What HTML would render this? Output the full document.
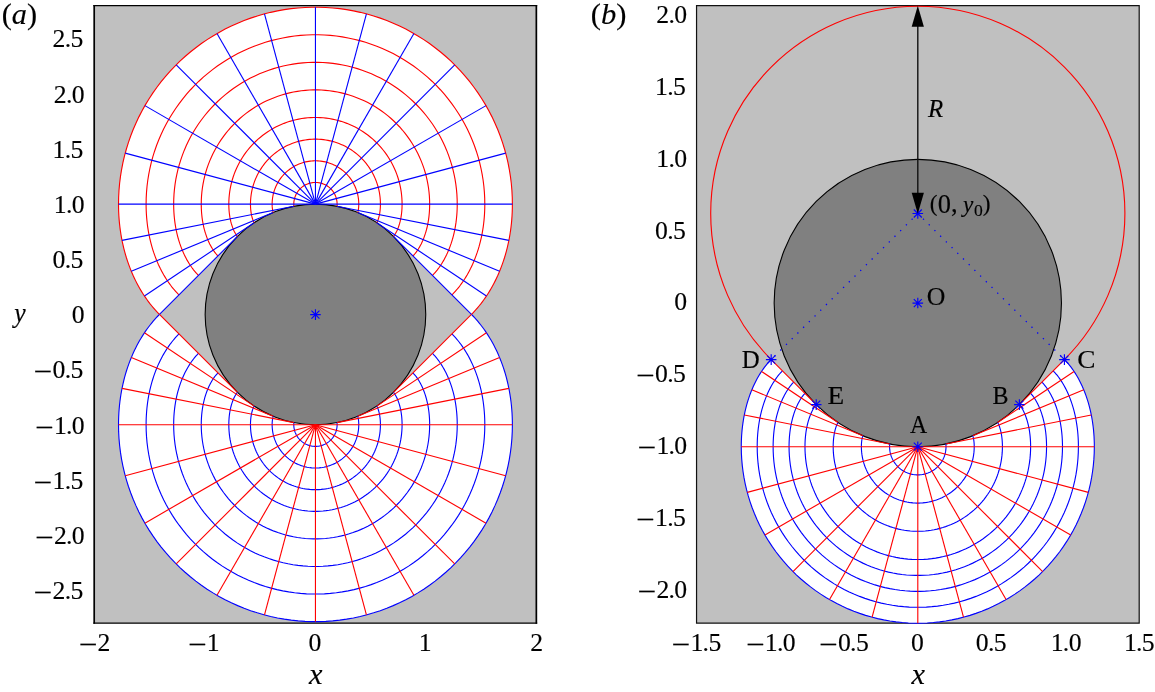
<!DOCTYPE html>
<html><head><meta charset="utf-8"><title>Figure</title>
<style>
html,body{margin:0;padding:0;background:#fff;}
svg{display:block;}
text{font-family:"Liberation Serif","Times New Roman",serif;fill:#000;stroke:#000;stroke-width:.15px;}
</style></head>
<body>
<svg width="1155" height="692" viewBox="0 0 1155 692">
<rect width="1155" height="692" fill="#fff"/>
<rect x="94.2" y="5.6" width="442.15" height="617.6" fill="#c0c0c0"/>
<path d="M94.2 5V623.8M536.35 5V623.8" stroke="#000" stroke-width="1.7" fill="none"/><path d="M93.35 5.6H537.2M93.35 623.2H537.2" stroke="#000" stroke-width="1.2" fill="none"/>
<path d="M471.44 314.4 L473.01 312.8 L474.58 311.13 L476.14 309.4 L477.7 307.6 L479.25 305.74 L480.79 303.82 L482.32 301.82 L483.84 299.76 L485.34 297.64 L486.82 295.45 L488.28 293.19 L489.72 290.86 L491.13 288.47 L492.52 286 L493.88 283.48 L495.21 280.88 L496.5 278.22 L497.76 275.5 L498.98 272.7 L500.17 269.84 L501.31 266.92 L502.41 263.93 L503.46 260.88 L504.47 257.77 L505.42 254.59 L506.32 251.35 L507.17 248.05 L507.96 244.7 L508.7 241.28 L509.37 237.8 L509.98 234.27 L510.53 230.68 L511.01 227.03 L511.42 223.34 L511.76 219.59 L512.03 215.79 L512.22 211.94 L512.34 208.04 L512.38 204.1 L512.26 197.15 L511.89 190.21 L511.28 183.28 L510.42 176.39 L509.32 169.52 L507.98 162.7 L506.4 155.93 L504.58 149.23 L502.53 142.58 L500.24 136.02 L497.72 129.54 L494.97 123.16 L492.01 116.87 L488.82 110.69 L485.41 104.63 L481.8 98.7 L477.97 92.89 L473.95 87.23 L469.72 81.71 L465.31 76.34 L460.71 71.13 L455.92 66.08 L450.97 61.21 L445.84 56.52 L440.55 52.01 L435.1 47.69 L429.51 43.56 L423.77 39.64 L417.9 35.92 L411.9 32.41 L405.78 29.11 L399.55 26.03 L393.21 23.17 L386.78 20.54 L380.26 18.14 L373.65 15.97 L366.98 14.03 L360.24 12.33 L353.44 10.87 L346.6 9.65 L339.72 8.67 L332.81 7.94 L325.87 7.45 L318.93 7.2 L311.97 7.2 L305.03 7.45 L298.09 7.94 L291.18 8.67 L284.3 9.65 L277.46 10.87 L270.66 12.33 L263.92 14.03 L257.25 15.97 L250.64 18.14 L244.12 20.54 L237.69 23.17 L231.35 26.03 L225.12 29.11 L219 32.41 L213 35.92 L207.13 39.64 L201.39 43.56 L195.8 47.69 L190.35 52.01 L185.06 56.52 L179.93 61.21 L174.98 66.08 L170.19 71.13 L165.59 76.34 L161.18 81.71 L156.95 87.23 L152.93 92.89 L149.1 98.7 L145.49 104.63 L142.08 110.69 L138.89 116.87 L135.93 123.16 L133.18 129.54 L130.66 136.02 L128.37 142.58 L126.32 149.23 L124.5 155.93 L122.92 162.7 L121.58 169.52 L120.48 176.39 L119.62 183.28 L119.01 190.21 L118.64 197.15 L118.52 204.1 L118.56 208.04 L118.68 211.94 L118.87 215.79 L119.14 219.59 L119.48 223.34 L119.89 227.03 L120.37 230.68 L120.92 234.27 L121.53 237.8 L122.2 241.28 L122.94 244.7 L123.73 248.05 L124.58 251.35 L125.48 254.59 L126.43 257.77 L127.44 260.88 L128.49 263.93 L129.59 266.92 L130.73 269.84 L131.92 272.7 L133.14 275.5 L134.4 278.22 L135.69 280.88 L137.02 283.48 L138.38 286 L139.77 288.47 L141.18 290.86 L142.62 293.19 L144.08 295.45 L145.56 297.64 L147.06 299.76 L148.58 301.82 L150.11 303.82 L151.65 305.74 L153.2 307.6 L154.76 309.4 L156.32 311.13 L157.89 312.8 L159.46 314.4 L237.46 236.41 L239.04 234.85 L240.66 233.33 L242.31 231.84 L243.98 230.38 L245.69 228.96 L247.43 227.57 L249.19 226.22 L250.98 224.91 L252.79 223.62 L254.63 222.38 L256.5 221.18 L258.39 220.01 L260.3 218.88 L262.23 217.79 L264.19 216.73 L266.17 215.72 L268.17 214.75 L270.18 213.82 L272.22 212.93 L274.27 212.08 L276.34 211.27 L278.42 210.5 L280.52 209.78 L282.64 209.09 L284.76 208.45 L286.9 207.86 L289.05 207.31 L291.22 206.8 L293.39 206.33 L295.57 205.91 L297.76 205.53 L299.95 205.19 L302.15 204.9 L304.36 204.66 L306.57 204.46 L308.79 204.3 L311.01 204.19 L313.23 204.12 L315.45 204.1 L317.67 204.12 L319.89 204.19 L322.11 204.3 L324.33 204.46 L326.54 204.66 L328.75 204.9 L330.95 205.19 L333.14 205.53 L335.33 205.91 L337.51 206.33 L339.68 206.8 L341.85 207.31 L344 207.86 L346.14 208.45 L348.26 209.09 L350.38 209.78 L352.48 210.5 L354.56 211.27 L356.63 212.08 L358.68 212.93 L360.72 213.82 L362.73 214.75 L364.73 215.72 L366.71 216.73 L368.67 217.79 L370.6 218.88 L372.51 220.01 L374.4 221.18 L376.27 222.38 L378.11 223.62 L379.92 224.91 L381.71 226.22 L383.47 227.57 L385.21 228.96 L386.92 230.38 L388.59 231.84 L390.24 233.33 L391.86 234.85 L393.44 236.41Z" fill="#fff" stroke="none"/>
<path d="M471.44 314.4 L473.01 316 L474.58 317.67 L476.14 319.4 L477.7 321.2 L479.25 323.06 L480.79 324.98 L482.32 326.98 L483.84 329.04 L485.34 331.16 L486.82 333.35 L488.28 335.61 L489.72 337.94 L491.13 340.33 L492.52 342.8 L493.88 345.32 L495.21 347.92 L496.5 350.58 L497.76 353.3 L498.98 356.1 L500.17 358.96 L501.31 361.88 L502.41 364.87 L503.46 367.92 L504.47 371.03 L505.42 374.21 L506.32 377.45 L507.17 380.75 L507.96 384.1 L508.7 387.52 L509.37 391 L509.98 394.53 L510.53 398.12 L511.01 401.77 L511.42 405.46 L511.76 409.21 L512.03 413.01 L512.22 416.86 L512.34 420.76 L512.38 424.7 L512.26 431.65 L511.89 438.59 L511.28 445.52 L510.42 452.41 L509.32 459.28 L507.98 466.1 L506.4 472.87 L504.58 479.57 L502.53 486.22 L500.24 492.78 L497.72 499.26 L494.97 505.64 L492.01 511.93 L488.82 518.11 L485.41 524.17 L481.8 530.1 L477.97 535.91 L473.95 541.57 L469.72 547.09 L465.31 552.46 L460.71 557.67 L455.92 562.72 L450.97 567.59 L445.84 572.28 L440.55 576.79 L435.1 581.11 L429.51 585.24 L423.77 589.16 L417.9 592.88 L411.9 596.39 L405.78 599.69 L399.55 602.77 L393.21 605.63 L386.78 608.26 L380.26 610.66 L373.65 612.83 L366.98 614.77 L360.24 616.47 L353.44 617.93 L346.6 619.15 L339.72 620.13 L332.81 620.86 L325.87 621.35 L318.93 621.6 L311.97 621.6 L305.03 621.35 L298.09 620.86 L291.18 620.13 L284.3 619.15 L277.46 617.93 L270.66 616.47 L263.92 614.77 L257.25 612.83 L250.64 610.66 L244.12 608.26 L237.69 605.63 L231.35 602.77 L225.12 599.69 L219 596.39 L213 592.88 L207.13 589.16 L201.39 585.24 L195.8 581.11 L190.35 576.79 L185.06 572.28 L179.93 567.59 L174.98 562.72 L170.19 557.67 L165.59 552.46 L161.18 547.09 L156.95 541.57 L152.93 535.91 L149.1 530.1 L145.49 524.17 L142.08 518.11 L138.89 511.93 L135.93 505.64 L133.18 499.26 L130.66 492.78 L128.37 486.22 L126.32 479.57 L124.5 472.87 L122.92 466.1 L121.58 459.28 L120.48 452.41 L119.62 445.52 L119.01 438.59 L118.64 431.65 L118.52 424.7 L118.56 420.76 L118.68 416.86 L118.87 413.01 L119.14 409.21 L119.48 405.46 L119.89 401.77 L120.37 398.12 L120.92 394.53 L121.53 391 L122.2 387.52 L122.94 384.1 L123.73 380.75 L124.58 377.45 L125.48 374.21 L126.43 371.03 L127.44 367.92 L128.49 364.87 L129.59 361.88 L130.73 358.96 L131.92 356.1 L133.14 353.3 L134.4 350.58 L135.69 347.92 L137.02 345.32 L138.38 342.8 L139.77 340.33 L141.18 337.94 L142.62 335.61 L144.08 333.35 L145.56 331.16 L147.06 329.04 L148.58 326.98 L150.11 324.98 L151.65 323.06 L153.2 321.2 L154.76 319.4 L156.32 317.67 L157.89 316 L159.46 314.4 L237.46 392.39 L239.04 393.95 L240.66 395.47 L242.31 396.96 L243.98 398.42 L245.69 399.84 L247.43 401.23 L249.19 402.58 L250.98 403.89 L252.79 405.18 L254.63 406.42 L256.5 407.62 L258.39 408.79 L260.3 409.92 L262.23 411.01 L264.19 412.07 L266.17 413.08 L268.17 414.05 L270.18 414.98 L272.22 415.87 L274.27 416.72 L276.34 417.53 L278.42 418.3 L280.52 419.02 L282.64 419.71 L284.76 420.35 L286.9 420.94 L289.05 421.49 L291.22 422 L293.39 422.47 L295.57 422.89 L297.76 423.27 L299.95 423.61 L302.15 423.9 L304.36 424.14 L306.57 424.34 L308.79 424.5 L311.01 424.61 L313.23 424.68 L315.45 424.7 L317.67 424.68 L319.89 424.61 L322.11 424.5 L324.33 424.34 L326.54 424.14 L328.75 423.9 L330.95 423.61 L333.14 423.27 L335.33 422.89 L337.51 422.47 L339.68 422 L341.85 421.49 L344 420.94 L346.14 420.35 L348.26 419.71 L350.38 419.02 L352.48 418.3 L354.56 417.53 L356.63 416.72 L358.68 415.87 L360.72 414.98 L362.73 414.05 L364.73 413.08 L366.71 412.07 L368.67 411.01 L370.6 409.92 L372.51 408.79 L374.4 407.62 L376.27 406.42 L378.11 405.18 L379.92 403.89 L381.71 402.58 L383.47 401.23 L385.21 399.84 L386.92 398.42 L388.59 396.96 L390.24 395.47 L391.86 393.95 L393.44 392.39Z" fill="#fff" stroke="none"/>
<circle cx="315.45" cy="314.4" r="110.3" fill="#808080" stroke="#000" stroke-width="1.1"/>
<g fill="none" stroke="#f00" stroke-width="1.12"><path d="M336.97 206.22 L336.97 206.22 L336.97 206.21 L336.97 206.21 L336.97 206.2 L336.97 206.18 L336.98 206.17 L336.98 206.15 L336.98 206.13 L336.99 206.11 L336.99 206.08 L337 206.05 L337 206.02 L337 205.99 L337.01 205.95 L337.01 205.91 L337.02 205.87 L337.02 205.82 L337.03 205.77 L337.04 205.72 L337.04 205.67 L337.05 205.61 L337.05 205.55 L337.06 205.49 L337.06 205.42 L337.07 205.35 L337.07 205.28 L337.08 205.21 L337.08 205.13 L337.08 205.05 L337.09 204.97 L337.09 204.88 L337.1 204.79 L337.1 204.7 L337.1 204.61 L337.1 204.51 L337.11 204.41 L337.11 204.31 L337.11 204.21 L337.11 204.1 L337.09 203.34 L337.05 202.57 L336.99 201.81 L336.89 201.05 L336.77 200.3 L336.62 199.55 L336.45 198.8 L336.25 198.07 L336.02 197.33 L335.77 196.61 L335.5 195.9 L335.19 195.2 L334.87 194.51 L334.52 193.83 L334.14 193.16 L333.74 192.51 L333.32 191.87 L332.88 191.25 L332.42 190.64 L331.93 190.05 L331.42 189.48 L330.9 188.92 L330.35 188.39 L329.79 187.87 L329.21 187.37 L328.61 186.9 L327.99 186.45 L327.36 186.01 L326.72 185.6 L326.06 185.22 L325.38 184.86 L324.7 184.52 L324 184.2 L323.29 183.91 L322.58 183.65 L321.85 183.41 L321.12 183.2 L320.38 183.01 L319.63 182.85 L318.88 182.72 L318.12 182.61 L317.36 182.53 L316.6 182.47 L315.83 182.45 L315.07 182.45 L314.3 182.47 L313.54 182.53 L312.78 182.61 L312.02 182.72 L311.27 182.85 L310.52 183.01 L309.78 183.2 L309.05 183.41 L308.32 183.65 L307.61 183.91 L306.9 184.2 L306.2 184.52 L305.52 184.86 L304.84 185.22 L304.18 185.6 L303.54 186.01 L302.91 186.45 L302.29 186.9 L301.69 187.37 L301.11 187.87 L300.55 188.39 L300 188.92 L299.48 189.48 L298.97 190.05 L298.48 190.64 L298.02 191.25 L297.58 191.87 L297.16 192.51 L296.76 193.16 L296.38 193.83 L296.03 194.51 L295.71 195.2 L295.4 195.9 L295.13 196.61 L294.88 197.33 L294.65 198.07 L294.45 198.8 L294.28 199.55 L294.13 200.3 L294.01 201.05 L293.91 201.81 L293.85 202.57 L293.81 203.34 L293.79 204.1 L293.79 204.21 L293.79 204.31 L293.79 204.41 L293.8 204.51 L293.8 204.61 L293.8 204.7 L293.8 204.79 L293.81 204.88 L293.81 204.97 L293.82 205.05 L293.82 205.13 L293.82 205.21 L293.83 205.28 L293.83 205.35 L293.84 205.42 L293.84 205.49 L293.85 205.55 L293.85 205.61 L293.86 205.67 L293.86 205.72 L293.87 205.77 L293.88 205.82 L293.88 205.87 L293.89 205.91 L293.89 205.95 L293.9 205.99 L293.9 206.02 L293.9 206.05 L293.91 206.08 L293.91 206.11 L293.92 206.13 L293.92 206.15 L293.92 206.17 L293.93 206.18 L293.93 206.2 L293.93 206.21 L293.93 206.21 L293.93 206.22 L293.93 206.22"/><path d="M357.66 212.5 L357.66 212.49 L357.67 212.48 L357.68 212.45 L357.69 212.41 L357.71 212.37 L357.73 212.31 L357.75 212.24 L357.78 212.16 L357.81 212.07 L357.84 211.97 L357.87 211.85 L357.91 211.73 L357.94 211.6 L357.98 211.45 L358.02 211.29 L358.06 211.12 L358.1 210.94 L358.15 210.75 L358.19 210.55 L358.23 210.34 L358.27 210.11 L358.32 209.87 L358.36 209.63 L358.4 209.37 L358.44 209.1 L358.48 208.81 L358.51 208.52 L358.55 208.21 L358.58 207.9 L358.61 207.57 L358.64 207.23 L358.67 206.88 L358.69 206.51 L358.71 206.14 L358.73 205.75 L358.75 205.36 L358.76 204.95 L358.76 204.53 L358.76 204.1 L358.74 202.57 L358.66 201.04 L358.52 199.52 L358.33 198 L358.09 196.49 L357.8 194.99 L357.45 193.51 L357.05 192.03 L356.6 190.57 L356.09 189.13 L355.54 187.7 L354.94 186.3 L354.28 184.91 L353.58 183.56 L352.83 182.22 L352.04 180.92 L351.2 179.64 L350.31 178.39 L349.38 177.18 L348.41 176 L347.4 174.85 L346.35 173.74 L345.26 172.67 L344.13 171.64 L342.97 170.65 L341.77 169.7 L340.54 168.79 L339.28 167.93 L337.98 167.11 L336.66 166.34 L335.32 165.61 L333.95 164.93 L332.55 164.31 L331.14 163.73 L329.7 163.2 L328.25 162.72 L326.78 162.29 L325.3 161.92 L323.81 161.6 L322.3 161.33 L320.79 161.12 L319.27 160.95 L317.74 160.85 L316.21 160.79 L314.69 160.79 L313.16 160.85 L311.63 160.95 L310.11 161.12 L308.6 161.33 L307.09 161.6 L305.6 161.92 L304.12 162.29 L302.65 162.72 L301.2 163.2 L299.76 163.73 L298.35 164.31 L296.95 164.93 L295.58 165.61 L294.24 166.34 L292.92 167.11 L291.62 167.93 L290.36 168.79 L289.13 169.7 L287.93 170.65 L286.77 171.64 L285.64 172.67 L284.55 173.74 L283.5 174.85 L282.49 176 L281.52 177.18 L280.59 178.39 L279.7 179.64 L278.86 180.92 L278.07 182.22 L277.32 183.56 L276.62 184.91 L275.96 186.3 L275.36 187.7 L274.81 189.13 L274.3 190.57 L273.85 192.03 L273.45 193.51 L273.1 194.99 L272.81 196.49 L272.57 198 L272.38 199.52 L272.24 201.04 L272.16 202.57 L272.14 204.1 L272.14 204.53 L272.14 204.95 L272.15 205.36 L272.17 205.75 L272.19 206.14 L272.21 206.51 L272.23 206.88 L272.26 207.23 L272.29 207.57 L272.32 207.9 L272.35 208.21 L272.39 208.52 L272.42 208.81 L272.46 209.1 L272.5 209.37 L272.54 209.63 L272.58 209.87 L272.63 210.11 L272.67 210.34 L272.71 210.55 L272.75 210.75 L272.8 210.94 L272.84 211.12 L272.88 211.29 L272.92 211.45 L272.96 211.6 L272.99 211.73 L273.03 211.85 L273.06 211.97 L273.09 212.07 L273.12 212.16 L273.15 212.24 L273.17 212.31 L273.19 212.37 L273.21 212.41 L273.22 212.45 L273.23 212.48 L273.24 212.49 L273.24 212.5"/><path d="M376.73 222.69 L376.74 222.68 L376.76 222.65 L376.79 222.59 L376.83 222.52 L376.89 222.42 L376.96 222.3 L377.03 222.15 L377.12 221.99 L377.22 221.79 L377.32 221.58 L377.43 221.34 L377.55 221.07 L377.67 220.78 L377.8 220.47 L377.93 220.13 L378.06 219.76 L378.2 219.37 L378.34 218.95 L378.48 218.51 L378.63 218.04 L378.77 217.55 L378.91 217.02 L379.05 216.47 L379.19 215.9 L379.32 215.3 L379.45 214.67 L379.58 214.01 L379.7 213.33 L379.81 212.63 L379.91 211.89 L380.01 211.13 L380.1 210.34 L380.18 209.53 L380.25 208.69 L380.31 207.82 L380.36 206.93 L380.39 206.01 L380.41 205.07 L380.42 204.1 L380.38 201.81 L380.26 199.52 L380.06 197.23 L379.78 194.96 L379.41 192.69 L378.97 190.44 L378.45 188.21 L377.85 186 L377.17 183.8 L376.42 181.64 L375.59 179.5 L374.68 177.39 L373.7 175.32 L372.65 173.28 L371.53 171.28 L370.33 169.32 L369.07 167.41 L367.74 165.54 L366.35 163.72 L364.89 161.95 L363.37 160.23 L361.8 158.57 L360.16 156.96 L358.47 155.41 L356.72 153.92 L354.93 152.5 L353.08 151.14 L351.19 149.84 L349.25 148.61 L347.27 147.45 L345.25 146.37 L343.2 145.35 L341.11 144.41 L338.98 143.54 L336.83 142.75 L334.65 142.03 L332.45 141.39 L330.23 140.83 L327.98 140.35 L325.73 139.95 L323.46 139.62 L321.18 139.38 L318.89 139.22 L316.6 139.14 L314.3 139.14 L312.01 139.22 L309.72 139.38 L307.44 139.62 L305.17 139.95 L302.92 140.35 L300.67 140.83 L298.45 141.39 L296.25 142.03 L294.07 142.75 L291.92 143.54 L289.79 144.41 L287.7 145.35 L285.65 146.37 L283.63 147.45 L281.65 148.61 L279.71 149.84 L277.82 151.14 L275.97 152.5 L274.18 153.92 L272.43 155.41 L270.74 156.96 L269.1 158.57 L267.53 160.23 L266.01 161.95 L264.55 163.72 L263.16 165.54 L261.83 167.41 L260.57 169.32 L259.37 171.28 L258.25 173.28 L257.2 175.32 L256.22 177.39 L255.31 179.5 L254.48 181.64 L253.73 183.8 L253.05 186 L252.45 188.21 L251.93 190.44 L251.49 192.69 L251.12 194.96 L250.84 197.23 L250.64 199.52 L250.52 201.81 L250.48 204.1 L250.49 205.07 L250.51 206.01 L250.54 206.93 L250.59 207.82 L250.65 208.69 L250.72 209.53 L250.8 210.34 L250.89 211.13 L250.99 211.89 L251.09 212.63 L251.2 213.33 L251.32 214.01 L251.45 214.67 L251.58 215.3 L251.71 215.9 L251.85 216.47 L251.99 217.02 L252.13 217.55 L252.27 218.04 L252.42 218.51 L252.56 218.95 L252.7 219.37 L252.84 219.76 L252.97 220.13 L253.1 220.47 L253.23 220.78 L253.35 221.07 L253.47 221.34 L253.58 221.58 L253.68 221.79 L253.78 221.99 L253.87 222.15 L253.94 222.3 L254.01 222.42 L254.07 222.52 L254.11 222.59 L254.14 222.65 L254.16 222.68 L254.17 222.69"/><path d="M393.44 236.41 L393.46 236.39 L393.51 236.34 L393.58 236.26 L393.68 236.14 L393.81 235.99 L393.97 235.79 L394.14 235.56 L394.34 235.29 L394.56 234.98 L394.8 234.63 L395.05 234.23 L395.32 233.8 L395.61 233.32 L395.9 232.79 L396.21 232.22 L396.53 231.6 L396.85 230.94 L397.18 230.23 L397.51 229.47 L397.84 228.66 L398.18 227.81 L398.51 226.91 L398.84 225.95 L399.16 224.95 L399.48 223.9 L399.78 222.81 L400.08 221.66 L400.36 220.46 L400.63 219.21 L400.88 217.92 L401.11 216.57 L401.32 215.18 L401.51 213.74 L401.68 212.25 L401.82 210.71 L401.93 209.13 L402.01 207.5 L402.06 205.82 L402.08 204.1 L402.03 201.04 L401.86 197.99 L401.59 194.94 L401.22 191.91 L400.73 188.89 L400.14 185.89 L399.45 182.91 L398.65 179.96 L397.74 177.04 L396.74 174.15 L395.63 171.3 L394.42 168.49 L393.12 165.73 L391.71 163.01 L390.22 160.34 L388.63 157.73 L386.94 155.18 L385.17 152.69 L383.32 150.26 L381.37 147.9 L379.35 145.61 L377.24 143.39 L375.06 141.24 L372.81 139.18 L370.48 137.2 L368.09 135.29 L365.62 133.48 L363.1 131.75 L360.52 130.12 L357.88 128.57 L355.19 127.12 L352.45 125.77 L349.66 124.51 L346.83 123.35 L343.96 122.3 L341.05 121.34 L338.12 120.49 L335.15 119.74 L332.16 119.1 L329.15 118.56 L326.13 118.13 L323.08 117.81 L320.03 117.59 L316.98 117.48 L313.92 117.48 L310.87 117.59 L307.82 117.81 L304.77 118.13 L301.75 118.56 L298.74 119.1 L295.75 119.74 L292.78 120.49 L289.85 121.34 L286.94 122.3 L284.07 123.35 L281.24 124.51 L278.45 125.77 L275.71 127.12 L273.02 128.57 L270.38 130.12 L267.8 131.75 L265.28 133.48 L262.81 135.29 L260.42 137.2 L258.09 139.18 L255.84 141.24 L253.66 143.39 L251.55 145.61 L249.53 147.9 L247.58 150.26 L245.73 152.69 L243.96 155.18 L242.27 157.73 L240.68 160.34 L239.19 163.01 L237.78 165.73 L236.48 168.49 L235.27 171.3 L234.16 174.15 L233.16 177.04 L232.25 179.96 L231.45 182.91 L230.76 185.89 L230.17 188.89 L229.68 191.91 L229.31 194.94 L229.04 197.99 L228.87 201.04 L228.82 204.1 L228.84 205.82 L228.89 207.5 L228.97 209.13 L229.08 210.71 L229.22 212.25 L229.39 213.74 L229.58 215.18 L229.79 216.57 L230.02 217.92 L230.27 219.21 L230.54 220.46 L230.82 221.66 L231.12 222.81 L231.42 223.9 L231.74 224.95 L232.06 225.95 L232.39 226.91 L232.72 227.81 L233.06 228.66 L233.39 229.47 L233.72 230.23 L234.05 230.94 L234.37 231.6 L234.69 232.22 L235 232.79 L235.29 233.32 L235.58 233.8 L235.85 234.23 L236.1 234.63 L236.34 234.98 L236.56 235.29 L236.76 235.56 L236.93 235.79 L237.09 235.99 L237.22 236.14 L237.32 236.26 L237.39 236.34 L237.44 236.39 L237.46 236.41"/><path d="M412.94 255.9 L413.35 255.49 L413.77 255.04 L414.22 254.54 L414.69 254.01 L415.17 253.42 L415.67 252.8 L416.19 252.13 L416.71 251.41 L417.25 250.65 L417.8 249.83 L418.36 248.97 L418.92 248.06 L419.49 247.1 L420.06 246.09 L420.63 245.03 L421.2 243.92 L421.76 242.76 L422.32 241.54 L422.88 240.28 L423.43 238.96 L423.96 237.59 L424.48 236.16 L424.99 234.69 L425.49 233.16 L425.96 231.58 L426.42 229.94 L426.85 228.26 L427.26 226.52 L427.65 224.73 L428 222.89 L428.33 221 L428.62 219.06 L428.89 217.06 L429.11 215.02 L429.3 212.93 L429.45 210.79 L429.56 208.61 L429.63 206.38 L429.65 204.1 L429.58 200.07 L429.37 196.04 L429.01 192.03 L428.52 188.03 L427.88 184.05 L427.1 180.09 L426.19 176.17 L425.13 172.28 L423.94 168.43 L422.61 164.62 L421.15 160.86 L419.56 157.16 L417.84 153.51 L415.99 149.93 L414.02 146.42 L411.92 142.97 L409.7 139.61 L407.37 136.32 L404.92 133.12 L402.36 130.01 L399.69 126.99 L396.91 124.06 L394.04 121.24 L391.07 118.51 L388 115.9 L384.84 113.39 L381.6 111 L378.27 108.72 L374.86 106.57 L371.38 104.53 L367.84 102.62 L364.22 100.83 L360.55 99.18 L356.82 97.65 L353.03 96.26 L349.2 95 L345.33 93.87 L341.42 92.89 L337.48 92.04 L333.51 91.33 L329.52 90.77 L325.52 90.34 L321.49 90.06 L317.47 89.91 L313.43 89.91 L309.41 90.06 L305.38 90.34 L301.38 90.77 L297.39 91.33 L293.42 92.04 L289.48 92.89 L285.57 93.87 L281.7 95 L277.87 96.26 L274.08 97.65 L270.35 99.18 L266.68 100.83 L263.06 102.62 L259.52 104.53 L256.04 106.57 L252.63 108.72 L249.3 111 L246.06 113.39 L242.9 115.9 L239.83 118.51 L236.86 121.24 L233.99 124.06 L231.21 126.99 L228.54 130.01 L225.98 133.12 L223.53 136.32 L221.2 139.61 L218.98 142.97 L216.88 146.42 L214.91 149.93 L213.06 153.51 L211.34 157.16 L209.75 160.86 L208.29 164.62 L206.96 168.43 L205.77 172.28 L204.71 176.17 L203.8 180.09 L203.02 184.05 L202.38 188.03 L201.89 192.03 L201.53 196.04 L201.32 200.07 L201.25 204.1 L201.27 206.38 L201.34 208.61 L201.45 210.79 L201.6 212.93 L201.79 215.02 L202.01 217.06 L202.28 219.06 L202.57 221 L202.9 222.89 L203.25 224.73 L203.64 226.52 L204.05 228.26 L204.48 229.94 L204.94 231.58 L205.41 233.16 L205.91 234.69 L206.42 236.16 L206.94 237.59 L207.47 238.96 L208.02 240.28 L208.58 241.54 L209.14 242.76 L209.7 243.92 L210.27 245.03 L210.84 246.09 L211.41 247.1 L211.98 248.06 L212.54 248.97 L213.1 249.83 L213.65 250.65 L214.19 251.41 L214.71 252.13 L215.23 252.8 L215.73 253.42 L216.21 254.01 L216.68 254.54 L217.13 255.04 L217.55 255.49 L217.96 255.9"/><path d="M432.44 275.4 L433.23 274.59 L434.04 273.74 L434.86 272.83 L435.69 271.87 L436.53 270.86 L437.38 269.81 L438.23 268.69 L439.09 267.53 L439.95 266.31 L440.81 265.04 L441.67 263.71 L442.52 262.33 L443.37 260.89 L444.21 259.4 L445.04 257.85 L445.87 256.24 L446.68 254.58 L447.47 252.86 L448.25 251.09 L449.01 249.25 L449.74 247.37 L450.46 245.42 L451.15 243.42 L451.81 241.36 L452.45 239.25 L453.05 237.08 L453.63 234.86 L454.16 232.58 L454.66 230.25 L455.13 227.86 L455.55 225.42 L455.93 222.93 L456.26 220.39 L456.55 217.79 L456.79 215.15 L456.98 212.46 L457.12 209.72 L457.2 206.93 L457.23 204.1 L457.14 199.1 L456.88 194.1 L456.44 189.11 L455.82 184.15 L455.03 179.21 L454.06 174.3 L452.92 169.42 L451.61 164.59 L450.13 159.81 L448.49 155.09 L446.68 150.42 L444.7 145.82 L442.56 141.3 L440.27 136.85 L437.82 132.49 L435.21 128.22 L432.46 124.04 L429.56 119.96 L426.52 115.98 L423.34 112.12 L420.03 108.37 L416.58 104.74 L413.01 101.23 L409.32 97.85 L405.51 94.6 L401.59 91.49 L397.57 88.52 L393.44 85.7 L389.21 83.02 L384.89 80.49 L380.48 78.12 L376 75.9 L371.44 73.84 L366.8 71.95 L362.11 70.22 L357.35 68.65 L352.55 67.26 L347.7 66.04 L342.8 64.98 L337.88 64.11 L332.92 63.4 L327.95 62.87 L322.95 62.52 L317.95 62.34 L312.95 62.34 L307.95 62.52 L302.95 62.87 L297.98 63.4 L293.02 64.11 L288.1 64.98 L283.2 66.04 L278.35 67.26 L273.55 68.65 L268.79 70.22 L264.1 71.95 L259.46 73.84 L254.9 75.9 L250.42 78.12 L246.01 80.49 L241.69 83.02 L237.46 85.7 L233.33 88.52 L229.31 91.49 L225.39 94.6 L221.58 97.85 L217.89 101.23 L214.32 104.74 L210.87 108.37 L207.56 112.12 L204.38 115.98 L201.34 119.96 L198.44 124.04 L195.69 128.22 L193.08 132.49 L190.63 136.85 L188.34 141.3 L186.2 145.82 L184.22 150.42 L182.41 155.09 L180.77 159.81 L179.29 164.59 L177.98 169.42 L176.84 174.3 L175.87 179.21 L175.08 184.15 L174.46 189.11 L174.02 194.1 L173.76 199.1 L173.67 204.1 L173.7 206.93 L173.78 209.72 L173.92 212.46 L174.11 215.15 L174.35 217.79 L174.64 220.39 L174.97 222.93 L175.35 225.42 L175.77 227.86 L176.24 230.25 L176.74 232.58 L177.27 234.86 L177.85 237.08 L178.45 239.25 L179.09 241.36 L179.75 243.42 L180.44 245.42 L181.16 247.37 L181.89 249.25 L182.65 251.09 L183.43 252.86 L184.22 254.58 L185.03 256.24 L185.86 257.85 L186.69 259.4 L187.53 260.89 L188.38 262.33 L189.23 263.71 L190.09 265.04 L190.95 266.31 L191.81 267.53 L192.67 268.69 L193.52 269.81 L194.37 270.86 L195.21 271.87 L196.04 272.83 L196.86 273.74 L197.67 274.59 L198.46 275.4"/><path d="M451.94 294.9 L453.12 293.7 L454.31 292.43 L455.5 291.12 L456.7 289.74 L457.89 288.3 L459.09 286.81 L460.28 285.26 L461.46 283.65 L462.64 281.97 L463.81 280.24 L464.97 278.45 L466.12 276.59 L467.25 274.68 L468.36 272.7 L469.46 270.66 L470.54 268.56 L471.59 266.4 L472.62 264.18 L473.62 261.89 L474.59 259.55 L475.53 257.14 L476.43 254.68 L477.31 252.15 L478.14 249.57 L478.94 246.92 L479.69 244.22 L480.4 241.46 L481.06 238.64 L481.68 235.76 L482.25 232.83 L482.76 229.84 L483.23 226.8 L483.63 223.71 L483.98 220.57 L484.27 217.37 L484.5 214.12 L484.67 210.83 L484.77 207.49 L484.8 204.1 L484.7 198.12 L484.38 192.15 L483.86 186.2 L483.12 180.27 L482.17 174.36 L481.02 168.5 L479.66 162.68 L478.1 156.91 L476.33 151.2 L474.36 145.55 L472.2 139.98 L469.84 134.49 L467.28 129.08 L464.54 123.77 L461.61 118.56 L458.5 113.46 L455.22 108.46 L451.75 103.59 L448.12 98.84 L444.33 94.23 L440.37 89.75 L436.25 85.41 L431.99 81.22 L427.58 77.18 L423.03 73.31 L418.35 69.59 L413.54 66.04 L408.6 62.67 L403.55 59.47 L398.4 56.45 L393.13 53.61 L387.77 50.97 L382.32 48.51 L376.79 46.25 L371.18 44.18 L365.5 42.31 L359.76 40.65 L353.97 39.18 L348.12 37.93 L342.24 36.88 L336.32 36.04 L330.38 35.4 L324.41 34.98 L318.44 34.77 L312.46 34.77 L306.49 34.98 L300.52 35.4 L294.58 36.04 L288.66 36.88 L282.78 37.93 L276.93 39.18 L271.14 40.65 L265.4 42.31 L259.72 44.18 L254.11 46.25 L248.58 48.51 L243.13 50.97 L237.77 53.61 L232.5 56.45 L227.35 59.47 L222.3 62.67 L217.36 66.04 L212.55 69.59 L207.87 73.31 L203.32 77.18 L198.91 81.22 L194.65 85.41 L190.53 89.75 L186.57 94.23 L182.78 98.84 L179.15 103.59 L175.68 108.46 L172.4 113.46 L169.29 118.56 L166.36 123.77 L163.62 129.08 L161.06 134.49 L158.7 139.98 L156.54 145.55 L154.57 151.2 L152.8 156.91 L151.24 162.68 L149.88 168.5 L148.73 174.36 L147.78 180.27 L147.04 186.2 L146.52 192.15 L146.2 198.12 L146.1 204.1 L146.13 207.49 L146.23 210.83 L146.4 214.12 L146.63 217.37 L146.92 220.57 L147.27 223.71 L147.67 226.8 L148.14 229.84 L148.65 232.83 L149.22 235.76 L149.84 238.64 L150.5 241.46 L151.21 244.22 L151.96 246.92 L152.76 249.57 L153.59 252.15 L154.47 254.68 L155.37 257.14 L156.31 259.55 L157.28 261.89 L158.28 264.18 L159.31 266.4 L160.36 268.56 L161.44 270.66 L162.54 272.7 L163.65 274.68 L164.78 276.59 L165.93 278.45 L167.09 280.24 L168.26 281.97 L169.44 283.65 L170.62 285.26 L171.81 286.81 L173.01 288.3 L174.2 289.74 L175.4 291.12 L176.59 292.43 L177.78 293.7 L178.96 294.9"/><path d="M471.44 314.4 L473.01 312.8 L474.58 311.13 L476.14 309.4 L477.7 307.6 L479.25 305.74 L480.79 303.82 L482.32 301.82 L483.84 299.76 L485.34 297.64 L486.82 295.45 L488.28 293.19 L489.72 290.86 L491.13 288.47 L492.52 286 L493.88 283.48 L495.21 280.88 L496.5 278.22 L497.76 275.5 L498.98 272.7 L500.17 269.84 L501.31 266.92 L502.41 263.93 L503.46 260.88 L504.47 257.77 L505.42 254.59 L506.32 251.35 L507.17 248.05 L507.96 244.7 L508.7 241.28 L509.37 237.8 L509.98 234.27 L510.53 230.68 L511.01 227.03 L511.42 223.34 L511.76 219.59 L512.03 215.79 L512.22 211.94 L512.34 208.04 L512.38 204.1 L512.26 197.15 L511.89 190.21 L511.28 183.28 L510.42 176.39 L509.32 169.52 L507.98 162.7 L506.4 155.93 L504.58 149.23 L502.53 142.58 L500.24 136.02 L497.72 129.54 L494.97 123.16 L492.01 116.87 L488.82 110.69 L485.41 104.63 L481.8 98.7 L477.97 92.89 L473.95 87.23 L469.72 81.71 L465.31 76.34 L460.71 71.13 L455.92 66.08 L450.97 61.21 L445.84 56.52 L440.55 52.01 L435.1 47.69 L429.51 43.56 L423.77 39.64 L417.9 35.92 L411.9 32.41 L405.78 29.11 L399.55 26.03 L393.21 23.17 L386.78 20.54 L380.26 18.14 L373.65 15.97 L366.98 14.03 L360.24 12.33 L353.44 10.87 L346.6 9.65 L339.72 8.67 L332.81 7.94 L325.87 7.45 L318.93 7.2 L311.97 7.2 L305.03 7.45 L298.09 7.94 L291.18 8.67 L284.3 9.65 L277.46 10.87 L270.66 12.33 L263.92 14.03 L257.25 15.97 L250.64 18.14 L244.12 20.54 L237.69 23.17 L231.35 26.03 L225.12 29.11 L219 32.41 L213 35.92 L207.13 39.64 L201.39 43.56 L195.8 47.69 L190.35 52.01 L185.06 56.52 L179.93 61.21 L174.98 66.08 L170.19 71.13 L165.59 76.34 L161.18 81.71 L156.95 87.23 L152.93 92.89 L149.1 98.7 L145.49 104.63 L142.08 110.69 L138.89 116.87 L135.93 123.16 L133.18 129.54 L130.66 136.02 L128.37 142.58 L126.32 149.23 L124.5 155.93 L122.92 162.7 L121.58 169.52 L120.48 176.39 L119.62 183.28 L119.01 190.21 L118.64 197.15 L118.52 204.1 L118.56 208.04 L118.68 211.94 L118.87 215.79 L119.14 219.59 L119.48 223.34 L119.89 227.03 L120.37 230.68 L120.92 234.27 L121.53 237.8 L122.2 241.28 L122.94 244.7 L123.73 248.05 L124.58 251.35 L125.48 254.59 L126.43 257.77 L127.44 260.88 L128.49 263.93 L129.59 266.92 L130.73 269.84 L131.92 272.7 L133.14 275.5 L134.4 278.22 L135.69 280.88 L137.02 283.48 L138.38 286 L139.77 288.47 L141.18 290.86 L142.62 293.19 L144.08 295.45 L145.56 297.64 L147.06 299.76 L148.58 301.82 L150.11 303.82 L151.65 305.74 L153.2 307.6 L154.76 309.4 L156.32 311.13 L157.89 312.8 L159.46 314.4"/></g>
<g fill="none" stroke="#00f" stroke-width="1.12"><path d="M315.45 204.1 L512.38 204.1"/><path d="M315.45 204.1 L505.67 153.13"/><path d="M315.45 204.1 L486 105.64"/><path d="M315.45 204.1 L454.7 64.85"/><path d="M315.45 204.1 L413.91 33.55"/><path d="M315.45 204.1 L366.42 13.88"/><path d="M315.45 204.1 L315.45 7.17"/><path d="M315.45 204.1 L264.48 13.88"/><path d="M315.45 204.1 L216.99 33.55"/><path d="M315.45 204.1 L176.2 64.85"/><path d="M315.45 204.1 L144.9 105.64"/><path d="M315.45 204.1 L125.23 153.13"/><path d="M315.45 204.1 L118.52 204.1"/><path d="M293.93 206.22 L122.03 240.41"/><path d="M273.24 212.5 L131.32 271.28"/><path d="M254.17 222.69 L144.45 296"/><path d="M237.46 236.41 L159.46 314.4"/><path d="M336.97 206.22 L508.87 240.41"/><path d="M357.66 212.5 L499.58 271.28"/><path d="M376.73 222.69 L486.45 296"/><path d="M393.44 236.41 L471.44 314.4"/></g>
<g fill="none" stroke="#00f" stroke-width="1.12"><path d="M336.97 422.58 L336.97 422.58 L336.97 422.59 L336.97 422.59 L336.97 422.6 L336.97 422.62 L336.98 422.63 L336.98 422.65 L336.98 422.67 L336.99 422.69 L336.99 422.72 L337 422.75 L337 422.78 L337 422.81 L337.01 422.85 L337.01 422.89 L337.02 422.93 L337.02 422.98 L337.03 423.03 L337.04 423.08 L337.04 423.13 L337.05 423.19 L337.05 423.25 L337.06 423.31 L337.06 423.38 L337.07 423.45 L337.07 423.52 L337.08 423.59 L337.08 423.67 L337.08 423.75 L337.09 423.83 L337.09 423.92 L337.1 424.01 L337.1 424.1 L337.1 424.19 L337.1 424.29 L337.11 424.39 L337.11 424.49 L337.11 424.59 L337.11 424.7 L337.09 425.46 L337.05 426.23 L336.99 426.99 L336.89 427.75 L336.77 428.5 L336.62 429.25 L336.45 430 L336.25 430.73 L336.02 431.47 L335.77 432.19 L335.5 432.9 L335.19 433.6 L334.87 434.29 L334.52 434.97 L334.14 435.64 L333.74 436.29 L333.32 436.93 L332.88 437.55 L332.42 438.16 L331.93 438.75 L331.42 439.32 L330.9 439.88 L330.35 440.41 L329.79 440.93 L329.21 441.43 L328.61 441.9 L327.99 442.35 L327.36 442.79 L326.72 443.2 L326.06 443.58 L325.38 443.94 L324.7 444.28 L324 444.6 L323.29 444.89 L322.58 445.15 L321.85 445.39 L321.12 445.6 L320.38 445.79 L319.63 445.95 L318.88 446.08 L318.12 446.19 L317.36 446.27 L316.6 446.33 L315.83 446.35 L315.07 446.35 L314.3 446.33 L313.54 446.27 L312.78 446.19 L312.02 446.08 L311.27 445.95 L310.52 445.79 L309.78 445.6 L309.05 445.39 L308.32 445.15 L307.61 444.89 L306.9 444.6 L306.2 444.28 L305.52 443.94 L304.84 443.58 L304.18 443.2 L303.54 442.79 L302.91 442.35 L302.29 441.9 L301.69 441.43 L301.11 440.93 L300.55 440.41 L300 439.88 L299.48 439.32 L298.97 438.75 L298.48 438.16 L298.02 437.55 L297.58 436.93 L297.16 436.29 L296.76 435.64 L296.38 434.97 L296.03 434.29 L295.71 433.6 L295.4 432.9 L295.13 432.19 L294.88 431.47 L294.65 430.73 L294.45 430 L294.28 429.25 L294.13 428.5 L294.01 427.75 L293.91 426.99 L293.85 426.23 L293.81 425.46 L293.79 424.7 L293.79 424.59 L293.79 424.49 L293.79 424.39 L293.8 424.29 L293.8 424.19 L293.8 424.1 L293.8 424.01 L293.81 423.92 L293.81 423.83 L293.82 423.75 L293.82 423.67 L293.82 423.59 L293.83 423.52 L293.83 423.45 L293.84 423.38 L293.84 423.31 L293.85 423.25 L293.85 423.19 L293.86 423.13 L293.86 423.08 L293.87 423.03 L293.88 422.98 L293.88 422.93 L293.89 422.89 L293.89 422.85 L293.9 422.81 L293.9 422.78 L293.9 422.75 L293.91 422.72 L293.91 422.69 L293.92 422.67 L293.92 422.65 L293.92 422.63 L293.93 422.62 L293.93 422.6 L293.93 422.59 L293.93 422.59 L293.93 422.58 L293.93 422.58"/><path d="M357.66 416.3 L357.66 416.31 L357.67 416.32 L357.68 416.35 L357.69 416.39 L357.71 416.43 L357.73 416.49 L357.75 416.56 L357.78 416.64 L357.81 416.73 L357.84 416.83 L357.87 416.95 L357.91 417.07 L357.94 417.2 L357.98 417.35 L358.02 417.51 L358.06 417.68 L358.1 417.86 L358.15 418.05 L358.19 418.25 L358.23 418.46 L358.27 418.69 L358.32 418.93 L358.36 419.17 L358.4 419.43 L358.44 419.7 L358.48 419.99 L358.51 420.28 L358.55 420.59 L358.58 420.9 L358.61 421.23 L358.64 421.57 L358.67 421.92 L358.69 422.29 L358.71 422.66 L358.73 423.05 L358.75 423.44 L358.76 423.85 L358.76 424.27 L358.76 424.7 L358.74 426.23 L358.66 427.76 L358.52 429.28 L358.33 430.8 L358.09 432.31 L357.8 433.81 L357.45 435.29 L357.05 436.77 L356.6 438.23 L356.09 439.67 L355.54 441.1 L354.94 442.5 L354.28 443.89 L353.58 445.24 L352.83 446.58 L352.04 447.88 L351.2 449.16 L350.31 450.41 L349.38 451.62 L348.41 452.8 L347.4 453.95 L346.35 455.06 L345.26 456.13 L344.13 457.16 L342.97 458.15 L341.77 459.1 L340.54 460.01 L339.28 460.87 L337.98 461.69 L336.66 462.46 L335.32 463.19 L333.95 463.87 L332.55 464.49 L331.14 465.07 L329.7 465.6 L328.25 466.08 L326.78 466.51 L325.3 466.88 L323.81 467.2 L322.3 467.47 L320.79 467.68 L319.27 467.85 L317.74 467.95 L316.21 468.01 L314.69 468.01 L313.16 467.95 L311.63 467.85 L310.11 467.68 L308.6 467.47 L307.09 467.2 L305.6 466.88 L304.12 466.51 L302.65 466.08 L301.2 465.6 L299.76 465.07 L298.35 464.49 L296.95 463.87 L295.58 463.19 L294.24 462.46 L292.92 461.69 L291.62 460.87 L290.36 460.01 L289.13 459.1 L287.93 458.15 L286.77 457.16 L285.64 456.13 L284.55 455.06 L283.5 453.95 L282.49 452.8 L281.52 451.62 L280.59 450.41 L279.7 449.16 L278.86 447.88 L278.07 446.58 L277.32 445.24 L276.62 443.89 L275.96 442.5 L275.36 441.1 L274.81 439.67 L274.3 438.23 L273.85 436.77 L273.45 435.29 L273.1 433.81 L272.81 432.31 L272.57 430.8 L272.38 429.28 L272.24 427.76 L272.16 426.23 L272.14 424.7 L272.14 424.27 L272.14 423.85 L272.15 423.44 L272.17 423.05 L272.19 422.66 L272.21 422.29 L272.23 421.92 L272.26 421.57 L272.29 421.23 L272.32 420.9 L272.35 420.59 L272.39 420.28 L272.42 419.99 L272.46 419.7 L272.5 419.43 L272.54 419.17 L272.58 418.93 L272.63 418.69 L272.67 418.46 L272.71 418.25 L272.75 418.05 L272.8 417.86 L272.84 417.68 L272.88 417.51 L272.92 417.35 L272.96 417.2 L272.99 417.07 L273.03 416.95 L273.06 416.83 L273.09 416.73 L273.12 416.64 L273.15 416.56 L273.17 416.49 L273.19 416.43 L273.21 416.39 L273.22 416.35 L273.23 416.32 L273.24 416.31 L273.24 416.3"/><path d="M376.73 406.11 L376.74 406.12 L376.76 406.15 L376.79 406.21 L376.83 406.28 L376.89 406.38 L376.96 406.5 L377.03 406.65 L377.12 406.81 L377.22 407.01 L377.32 407.22 L377.43 407.46 L377.55 407.73 L377.67 408.02 L377.8 408.33 L377.93 408.67 L378.06 409.04 L378.2 409.43 L378.34 409.85 L378.48 410.29 L378.63 410.76 L378.77 411.25 L378.91 411.78 L379.05 412.33 L379.19 412.9 L379.32 413.5 L379.45 414.13 L379.58 414.79 L379.7 415.47 L379.81 416.17 L379.91 416.91 L380.01 417.67 L380.1 418.46 L380.18 419.27 L380.25 420.11 L380.31 420.98 L380.36 421.87 L380.39 422.79 L380.41 423.73 L380.42 424.7 L380.38 426.99 L380.26 429.28 L380.06 431.57 L379.78 433.84 L379.41 436.11 L378.97 438.36 L378.45 440.59 L377.85 442.8 L377.17 445 L376.42 447.16 L375.59 449.3 L374.68 451.41 L373.7 453.48 L372.65 455.52 L371.53 457.52 L370.33 459.48 L369.07 461.39 L367.74 463.26 L366.35 465.08 L364.89 466.85 L363.37 468.57 L361.8 470.23 L360.16 471.84 L358.47 473.39 L356.72 474.88 L354.93 476.3 L353.08 477.66 L351.19 478.96 L349.25 480.19 L347.27 481.35 L345.25 482.43 L343.2 483.45 L341.11 484.39 L338.98 485.26 L336.83 486.05 L334.65 486.77 L332.45 487.41 L330.23 487.97 L327.98 488.45 L325.73 488.85 L323.46 489.18 L321.18 489.42 L318.89 489.58 L316.6 489.66 L314.3 489.66 L312.01 489.58 L309.72 489.42 L307.44 489.18 L305.17 488.85 L302.92 488.45 L300.67 487.97 L298.45 487.41 L296.25 486.77 L294.07 486.05 L291.92 485.26 L289.79 484.39 L287.7 483.45 L285.65 482.43 L283.63 481.35 L281.65 480.19 L279.71 478.96 L277.82 477.66 L275.97 476.3 L274.18 474.88 L272.43 473.39 L270.74 471.84 L269.1 470.23 L267.53 468.57 L266.01 466.85 L264.55 465.08 L263.16 463.26 L261.83 461.39 L260.57 459.48 L259.37 457.52 L258.25 455.52 L257.2 453.48 L256.22 451.41 L255.31 449.3 L254.48 447.16 L253.73 445 L253.05 442.8 L252.45 440.59 L251.93 438.36 L251.49 436.11 L251.12 433.84 L250.84 431.57 L250.64 429.28 L250.52 426.99 L250.48 424.7 L250.49 423.73 L250.51 422.79 L250.54 421.87 L250.59 420.98 L250.65 420.11 L250.72 419.27 L250.8 418.46 L250.89 417.67 L250.99 416.91 L251.09 416.17 L251.2 415.47 L251.32 414.79 L251.45 414.13 L251.58 413.5 L251.71 412.9 L251.85 412.33 L251.99 411.78 L252.13 411.25 L252.27 410.76 L252.42 410.29 L252.56 409.85 L252.7 409.43 L252.84 409.04 L252.97 408.67 L253.1 408.33 L253.23 408.02 L253.35 407.73 L253.47 407.46 L253.58 407.22 L253.68 407.01 L253.78 406.81 L253.87 406.65 L253.94 406.5 L254.01 406.38 L254.07 406.28 L254.11 406.21 L254.14 406.15 L254.16 406.12 L254.17 406.11"/><path d="M393.44 392.39 L393.46 392.41 L393.51 392.46 L393.58 392.54 L393.68 392.66 L393.81 392.81 L393.97 393.01 L394.14 393.24 L394.34 393.51 L394.56 393.82 L394.8 394.17 L395.05 394.57 L395.32 395 L395.61 395.48 L395.9 396.01 L396.21 396.58 L396.53 397.2 L396.85 397.86 L397.18 398.57 L397.51 399.33 L397.84 400.14 L398.18 400.99 L398.51 401.89 L398.84 402.85 L399.16 403.85 L399.48 404.9 L399.78 405.99 L400.08 407.14 L400.36 408.34 L400.63 409.59 L400.88 410.88 L401.11 412.23 L401.32 413.62 L401.51 415.06 L401.68 416.55 L401.82 418.09 L401.93 419.67 L402.01 421.3 L402.06 422.98 L402.08 424.7 L402.03 427.76 L401.86 430.81 L401.59 433.86 L401.22 436.89 L400.73 439.91 L400.14 442.91 L399.45 445.89 L398.65 448.84 L397.74 451.76 L396.74 454.65 L395.63 457.5 L394.42 460.31 L393.12 463.07 L391.71 465.79 L390.22 468.46 L388.63 471.07 L386.94 473.62 L385.17 476.11 L383.32 478.54 L381.37 480.9 L379.35 483.19 L377.24 485.41 L375.06 487.56 L372.81 489.62 L370.48 491.6 L368.09 493.51 L365.62 495.32 L363.1 497.05 L360.52 498.68 L357.88 500.23 L355.19 501.68 L352.45 503.03 L349.66 504.29 L346.83 505.45 L343.96 506.5 L341.05 507.46 L338.12 508.31 L335.15 509.06 L332.16 509.7 L329.15 510.24 L326.13 510.67 L323.08 510.99 L320.03 511.21 L316.98 511.32 L313.92 511.32 L310.87 511.21 L307.82 510.99 L304.77 510.67 L301.75 510.24 L298.74 509.7 L295.75 509.06 L292.78 508.31 L289.85 507.46 L286.94 506.5 L284.07 505.45 L281.24 504.29 L278.45 503.03 L275.71 501.68 L273.02 500.23 L270.38 498.68 L267.8 497.05 L265.28 495.32 L262.81 493.51 L260.42 491.6 L258.09 489.62 L255.84 487.56 L253.66 485.41 L251.55 483.19 L249.53 480.9 L247.58 478.54 L245.73 476.11 L243.96 473.62 L242.27 471.07 L240.68 468.46 L239.19 465.79 L237.78 463.07 L236.48 460.31 L235.27 457.5 L234.16 454.65 L233.16 451.76 L232.25 448.84 L231.45 445.89 L230.76 442.91 L230.17 439.91 L229.68 436.89 L229.31 433.86 L229.04 430.81 L228.87 427.76 L228.82 424.7 L228.84 422.98 L228.89 421.3 L228.97 419.67 L229.08 418.09 L229.22 416.55 L229.39 415.06 L229.58 413.62 L229.79 412.23 L230.02 410.88 L230.27 409.59 L230.54 408.34 L230.82 407.14 L231.12 405.99 L231.42 404.9 L231.74 403.85 L232.06 402.85 L232.39 401.89 L232.72 400.99 L233.06 400.14 L233.39 399.33 L233.72 398.57 L234.05 397.86 L234.37 397.2 L234.69 396.58 L235 396.01 L235.29 395.48 L235.58 395 L235.85 394.57 L236.1 394.17 L236.34 393.82 L236.56 393.51 L236.76 393.24 L236.93 393.01 L237.09 392.81 L237.22 392.66 L237.32 392.54 L237.39 392.46 L237.44 392.41 L237.46 392.39"/><path d="M412.94 372.9 L413.35 373.31 L413.77 373.76 L414.22 374.26 L414.69 374.79 L415.17 375.38 L415.67 376 L416.19 376.67 L416.71 377.39 L417.25 378.15 L417.8 378.97 L418.36 379.83 L418.92 380.74 L419.49 381.7 L420.06 382.71 L420.63 383.77 L421.2 384.88 L421.76 386.04 L422.32 387.26 L422.88 388.52 L423.43 389.84 L423.96 391.21 L424.48 392.64 L424.99 394.11 L425.49 395.64 L425.96 397.22 L426.42 398.86 L426.85 400.54 L427.26 402.28 L427.65 404.07 L428 405.91 L428.33 407.8 L428.62 409.74 L428.89 411.74 L429.11 413.78 L429.3 415.87 L429.45 418.01 L429.56 420.19 L429.63 422.42 L429.65 424.7 L429.58 428.73 L429.37 432.76 L429.01 436.77 L428.52 440.77 L427.88 444.75 L427.1 448.71 L426.19 452.63 L425.13 456.52 L423.94 460.37 L422.61 464.18 L421.15 467.94 L419.56 471.64 L417.84 475.29 L415.99 478.87 L414.02 482.38 L411.92 485.83 L409.7 489.19 L407.37 492.48 L404.92 495.68 L402.36 498.79 L399.69 501.81 L396.91 504.74 L394.04 507.56 L391.07 510.29 L388 512.9 L384.84 515.41 L381.6 517.8 L378.27 520.08 L374.86 522.23 L371.38 524.27 L367.84 526.18 L364.22 527.97 L360.55 529.62 L356.82 531.15 L353.03 532.54 L349.2 533.8 L345.33 534.93 L341.42 535.91 L337.48 536.76 L333.51 537.47 L329.52 538.03 L325.52 538.46 L321.49 538.74 L317.47 538.89 L313.43 538.89 L309.41 538.74 L305.38 538.46 L301.38 538.03 L297.39 537.47 L293.42 536.76 L289.48 535.91 L285.57 534.93 L281.7 533.8 L277.87 532.54 L274.08 531.15 L270.35 529.62 L266.68 527.97 L263.06 526.18 L259.52 524.27 L256.04 522.23 L252.63 520.08 L249.3 517.8 L246.06 515.41 L242.9 512.9 L239.83 510.29 L236.86 507.56 L233.99 504.74 L231.21 501.81 L228.54 498.79 L225.98 495.68 L223.53 492.48 L221.2 489.19 L218.98 485.83 L216.88 482.38 L214.91 478.87 L213.06 475.29 L211.34 471.64 L209.75 467.94 L208.29 464.18 L206.96 460.37 L205.77 456.52 L204.71 452.63 L203.8 448.71 L203.02 444.75 L202.38 440.77 L201.89 436.77 L201.53 432.76 L201.32 428.73 L201.25 424.7 L201.27 422.42 L201.34 420.19 L201.45 418.01 L201.6 415.87 L201.79 413.78 L202.01 411.74 L202.28 409.74 L202.57 407.8 L202.9 405.91 L203.25 404.07 L203.64 402.28 L204.05 400.54 L204.48 398.86 L204.94 397.22 L205.41 395.64 L205.91 394.11 L206.42 392.64 L206.94 391.21 L207.47 389.84 L208.02 388.52 L208.58 387.26 L209.14 386.04 L209.7 384.88 L210.27 383.77 L210.84 382.71 L211.41 381.7 L211.98 380.74 L212.54 379.83 L213.1 378.97 L213.65 378.15 L214.19 377.39 L214.71 376.67 L215.23 376 L215.73 375.38 L216.21 374.79 L216.68 374.26 L217.13 373.76 L217.55 373.31 L217.96 372.9"/><path d="M432.44 353.4 L433.23 354.21 L434.04 355.06 L434.86 355.97 L435.69 356.93 L436.53 357.94 L437.38 358.99 L438.23 360.11 L439.09 361.27 L439.95 362.49 L440.81 363.76 L441.67 365.09 L442.52 366.47 L443.37 367.91 L444.21 369.4 L445.04 370.95 L445.87 372.56 L446.68 374.22 L447.47 375.94 L448.25 377.71 L449.01 379.55 L449.74 381.43 L450.46 383.38 L451.15 385.38 L451.81 387.44 L452.45 389.55 L453.05 391.72 L453.63 393.94 L454.16 396.22 L454.66 398.55 L455.13 400.94 L455.55 403.38 L455.93 405.87 L456.26 408.41 L456.55 411.01 L456.79 413.65 L456.98 416.34 L457.12 419.08 L457.2 421.87 L457.23 424.7 L457.14 429.7 L456.88 434.7 L456.44 439.69 L455.82 444.65 L455.03 449.59 L454.06 454.5 L452.92 459.38 L451.61 464.21 L450.13 468.99 L448.49 473.71 L446.68 478.38 L444.7 482.98 L442.56 487.5 L440.27 491.95 L437.82 496.31 L435.21 500.58 L432.46 504.76 L429.56 508.84 L426.52 512.82 L423.34 516.68 L420.03 520.43 L416.58 524.06 L413.01 527.57 L409.32 530.95 L405.51 534.2 L401.59 537.31 L397.57 540.28 L393.44 543.1 L389.21 545.78 L384.89 548.31 L380.48 550.68 L376 552.9 L371.44 554.96 L366.8 556.85 L362.11 558.58 L357.35 560.15 L352.55 561.54 L347.7 562.76 L342.8 563.82 L337.88 564.69 L332.92 565.4 L327.95 565.93 L322.95 566.28 L317.95 566.46 L312.95 566.46 L307.95 566.28 L302.95 565.93 L297.98 565.4 L293.02 564.69 L288.1 563.82 L283.2 562.76 L278.35 561.54 L273.55 560.15 L268.79 558.58 L264.1 556.85 L259.46 554.96 L254.9 552.9 L250.42 550.68 L246.01 548.31 L241.69 545.78 L237.46 543.1 L233.33 540.28 L229.31 537.31 L225.39 534.2 L221.58 530.95 L217.89 527.57 L214.32 524.06 L210.87 520.43 L207.56 516.68 L204.38 512.82 L201.34 508.84 L198.44 504.76 L195.69 500.58 L193.08 496.31 L190.63 491.95 L188.34 487.5 L186.2 482.98 L184.22 478.38 L182.41 473.71 L180.77 468.99 L179.29 464.21 L177.98 459.38 L176.84 454.5 L175.87 449.59 L175.08 444.65 L174.46 439.69 L174.02 434.7 L173.76 429.7 L173.67 424.7 L173.7 421.87 L173.78 419.08 L173.92 416.34 L174.11 413.65 L174.35 411.01 L174.64 408.41 L174.97 405.87 L175.35 403.38 L175.77 400.94 L176.24 398.55 L176.74 396.22 L177.27 393.94 L177.85 391.72 L178.45 389.55 L179.09 387.44 L179.75 385.38 L180.44 383.38 L181.16 381.43 L181.89 379.55 L182.65 377.71 L183.43 375.94 L184.22 374.22 L185.03 372.56 L185.86 370.95 L186.69 369.4 L187.53 367.91 L188.38 366.47 L189.23 365.09 L190.09 363.76 L190.95 362.49 L191.81 361.27 L192.67 360.11 L193.52 358.99 L194.37 357.94 L195.21 356.93 L196.04 355.97 L196.86 355.06 L197.67 354.21 L198.46 353.4"/><path d="M451.94 333.9 L453.12 335.1 L454.31 336.37 L455.5 337.68 L456.7 339.06 L457.89 340.5 L459.09 341.99 L460.28 343.54 L461.46 345.15 L462.64 346.83 L463.81 348.56 L464.97 350.35 L466.12 352.21 L467.25 354.12 L468.36 356.1 L469.46 358.14 L470.54 360.24 L471.59 362.4 L472.62 364.62 L473.62 366.91 L474.59 369.25 L475.53 371.66 L476.43 374.12 L477.31 376.65 L478.14 379.23 L478.94 381.88 L479.69 384.58 L480.4 387.34 L481.06 390.16 L481.68 393.04 L482.25 395.97 L482.76 398.96 L483.23 402 L483.63 405.09 L483.98 408.23 L484.27 411.43 L484.5 414.68 L484.67 417.97 L484.77 421.31 L484.8 424.7 L484.7 430.68 L484.38 436.65 L483.86 442.6 L483.12 448.53 L482.17 454.44 L481.02 460.3 L479.66 466.12 L478.1 471.89 L476.33 477.6 L474.36 483.25 L472.2 488.82 L469.84 494.31 L467.28 499.72 L464.54 505.03 L461.61 510.24 L458.5 515.34 L455.22 520.34 L451.75 525.21 L448.12 529.96 L444.33 534.57 L440.37 539.05 L436.25 543.39 L431.99 547.58 L427.58 551.62 L423.03 555.49 L418.35 559.21 L413.54 562.76 L408.6 566.13 L403.55 569.33 L398.4 572.35 L393.13 575.19 L387.77 577.83 L382.32 580.29 L376.79 582.55 L371.18 584.62 L365.5 586.49 L359.76 588.15 L353.97 589.62 L348.12 590.87 L342.24 591.92 L336.32 592.76 L330.38 593.4 L324.41 593.82 L318.44 594.03 L312.46 594.03 L306.49 593.82 L300.52 593.4 L294.58 592.76 L288.66 591.92 L282.78 590.87 L276.93 589.62 L271.14 588.15 L265.4 586.49 L259.72 584.62 L254.11 582.55 L248.58 580.29 L243.13 577.83 L237.77 575.19 L232.5 572.35 L227.35 569.33 L222.3 566.13 L217.36 562.76 L212.55 559.21 L207.87 555.49 L203.32 551.62 L198.91 547.58 L194.65 543.39 L190.53 539.05 L186.57 534.57 L182.78 529.96 L179.15 525.21 L175.68 520.34 L172.4 515.34 L169.29 510.24 L166.36 505.03 L163.62 499.72 L161.06 494.31 L158.7 488.82 L156.54 483.25 L154.57 477.6 L152.8 471.89 L151.24 466.12 L149.88 460.3 L148.73 454.44 L147.78 448.53 L147.04 442.6 L146.52 436.65 L146.2 430.68 L146.1 424.7 L146.13 421.31 L146.23 417.97 L146.4 414.68 L146.63 411.43 L146.92 408.23 L147.27 405.09 L147.67 402 L148.14 398.96 L148.65 395.97 L149.22 393.04 L149.84 390.16 L150.5 387.34 L151.21 384.58 L151.96 381.88 L152.76 379.23 L153.59 376.65 L154.47 374.12 L155.37 371.66 L156.31 369.25 L157.28 366.91 L158.28 364.62 L159.31 362.4 L160.36 360.24 L161.44 358.14 L162.54 356.1 L163.65 354.12 L164.78 352.21 L165.93 350.35 L167.09 348.56 L168.26 346.83 L169.44 345.15 L170.62 343.54 L171.81 341.99 L173.01 340.5 L174.2 339.06 L175.4 337.68 L176.59 336.37 L177.78 335.1 L178.96 333.9"/><path d="M471.44 314.4 L473.01 316 L474.58 317.67 L476.14 319.4 L477.7 321.2 L479.25 323.06 L480.79 324.98 L482.32 326.98 L483.84 329.04 L485.34 331.16 L486.82 333.35 L488.28 335.61 L489.72 337.94 L491.13 340.33 L492.52 342.8 L493.88 345.32 L495.21 347.92 L496.5 350.58 L497.76 353.3 L498.98 356.1 L500.17 358.96 L501.31 361.88 L502.41 364.87 L503.46 367.92 L504.47 371.03 L505.42 374.21 L506.32 377.45 L507.17 380.75 L507.96 384.1 L508.7 387.52 L509.37 391 L509.98 394.53 L510.53 398.12 L511.01 401.77 L511.42 405.46 L511.76 409.21 L512.03 413.01 L512.22 416.86 L512.34 420.76 L512.38 424.7 L512.26 431.65 L511.89 438.59 L511.28 445.52 L510.42 452.41 L509.32 459.28 L507.98 466.1 L506.4 472.87 L504.58 479.57 L502.53 486.22 L500.24 492.78 L497.72 499.26 L494.97 505.64 L492.01 511.93 L488.82 518.11 L485.41 524.17 L481.8 530.1 L477.97 535.91 L473.95 541.57 L469.72 547.09 L465.31 552.46 L460.71 557.67 L455.92 562.72 L450.97 567.59 L445.84 572.28 L440.55 576.79 L435.1 581.11 L429.51 585.24 L423.77 589.16 L417.9 592.88 L411.9 596.39 L405.78 599.69 L399.55 602.77 L393.21 605.63 L386.78 608.26 L380.26 610.66 L373.65 612.83 L366.98 614.77 L360.24 616.47 L353.44 617.93 L346.6 619.15 L339.72 620.13 L332.81 620.86 L325.87 621.35 L318.93 621.6 L311.97 621.6 L305.03 621.35 L298.09 620.86 L291.18 620.13 L284.3 619.15 L277.46 617.93 L270.66 616.47 L263.92 614.77 L257.25 612.83 L250.64 610.66 L244.12 608.26 L237.69 605.63 L231.35 602.77 L225.12 599.69 L219 596.39 L213 592.88 L207.13 589.16 L201.39 585.24 L195.8 581.11 L190.35 576.79 L185.06 572.28 L179.93 567.59 L174.98 562.72 L170.19 557.67 L165.59 552.46 L161.18 547.09 L156.95 541.57 L152.93 535.91 L149.1 530.1 L145.49 524.17 L142.08 518.11 L138.89 511.93 L135.93 505.64 L133.18 499.26 L130.66 492.78 L128.37 486.22 L126.32 479.57 L124.5 472.87 L122.92 466.1 L121.58 459.28 L120.48 452.41 L119.62 445.52 L119.01 438.59 L118.64 431.65 L118.52 424.7 L118.56 420.76 L118.68 416.86 L118.87 413.01 L119.14 409.21 L119.48 405.46 L119.89 401.77 L120.37 398.12 L120.92 394.53 L121.53 391 L122.2 387.52 L122.94 384.1 L123.73 380.75 L124.58 377.45 L125.48 374.21 L126.43 371.03 L127.44 367.92 L128.49 364.87 L129.59 361.88 L130.73 358.96 L131.92 356.1 L133.14 353.3 L134.4 350.58 L135.69 347.92 L137.02 345.32 L138.38 342.8 L139.77 340.33 L141.18 337.94 L142.62 335.61 L144.08 333.35 L145.56 331.16 L147.06 329.04 L148.58 326.98 L150.11 324.98 L151.65 323.06 L153.2 321.2 L154.76 319.4 L156.32 317.67 L157.89 316 L159.46 314.4"/></g>
<g fill="none" stroke="#f00" stroke-width="1.12"><path d="M315.45 424.7 L512.38 424.7"/><path d="M315.45 424.7 L505.67 475.67"/><path d="M315.45 424.7 L486 523.16"/><path d="M315.45 424.7 L454.7 563.95"/><path d="M315.45 424.7 L413.91 595.25"/><path d="M315.45 424.7 L366.42 614.92"/><path d="M315.45 424.7 L315.45 621.63"/><path d="M315.45 424.7 L264.48 614.92"/><path d="M315.45 424.7 L216.99 595.25"/><path d="M315.45 424.7 L176.2 563.95"/><path d="M315.45 424.7 L144.9 523.16"/><path d="M315.45 424.7 L125.23 475.67"/><path d="M315.45 424.7 L118.52 424.7"/><path d="M293.93 422.58 L122.03 388.39"/><path d="M273.24 416.3 L131.32 357.52"/><path d="M254.17 406.11 L144.45 332.8"/><path d="M237.46 392.39 L159.46 314.4"/><path d="M336.97 422.58 L508.87 388.39"/><path d="M357.66 416.3 L499.58 357.52"/><path d="M376.73 406.11 L486.45 332.8"/><path d="M393.44 392.39 L471.44 314.4"/></g>
<path d="M310.15 314.6H320.75M315.45 309.3V319.9M311.45 310.6L319.45 318.6M311.45 318.6L319.45 310.6" stroke="#00f" stroke-width="1.15" fill="none"/>
<rect x="696.55" y="5.7" width="442.65" height="617.4" fill="#c0c0c0"/>
<path d="M696.55 5.1V623.7M1139.2 5.1V623.7M695.95 5.7H1139.8M695.95 623.1H1139.8" stroke="#111" stroke-width="1.2" fill="none"/>
<path d="M1064.42 359.58 L1065.34 360.51 L1066.28 361.51 L1067.24 362.57 L1068.21 363.69 L1069.2 364.88 L1070.21 366.13 L1071.22 367.45 L1072.24 368.84 L1073.26 370.29 L1074.29 371.81 L1075.32 373.4 L1076.34 375.06 L1077.37 376.8 L1078.38 378.6 L1079.39 380.47 L1080.39 382.42 L1081.37 384.44 L1082.34 386.53 L1083.28 388.69 L1084.21 390.92 L1085.11 393.23 L1085.99 395.61 L1086.83 398.06 L1087.65 400.59 L1088.43 403.18 L1089.17 405.85 L1089.87 408.59 L1090.54 411.39 L1091.15 414.27 L1091.72 417.22 L1092.24 420.23 L1092.71 423.32 L1093.13 426.47 L1093.49 429.68 L1093.78 432.96 L1094.02 436.3 L1094.19 439.71 L1094.3 443.17 L1094.33 446.7 L1094.22 452.93 L1093.89 459.15 L1093.34 465.36 L1092.57 471.54 L1091.59 477.7 L1090.39 483.81 L1088.97 489.88 L1087.34 495.89 L1085.5 501.84 L1083.45 507.73 L1081.19 513.54 L1078.73 519.26 L1076.07 524.89 L1073.21 530.43 L1070.16 535.86 L1066.92 541.18 L1063.49 546.39 L1059.88 551.47 L1056.09 556.42 L1052.14 561.23 L1048.01 565.9 L1043.72 570.42 L1039.28 574.79 L1034.68 578.99 L1029.94 583.04 L1025.06 586.91 L1020.04 590.61 L1014.9 594.13 L1009.64 597.46 L1004.26 600.61 L998.78 603.56 L993.19 606.32 L987.51 608.89 L981.74 611.24 L975.89 613.4 L969.98 615.34 L963.99 617.08 L957.95 618.6 L951.86 619.91 L945.72 621.01 L939.55 621.89 L933.36 622.54 L927.14 622.98 L920.92 623.2 L914.68 623.2 L908.46 622.98 L902.24 622.54 L896.05 621.89 L889.88 621.01 L883.74 619.91 L877.65 618.6 L871.61 617.08 L865.62 615.34 L859.71 613.4 L853.86 611.24 L848.09 608.89 L842.41 606.32 L836.82 603.56 L831.34 600.61 L825.96 597.46 L820.7 594.13 L815.56 590.61 L810.54 586.91 L805.66 583.04 L800.92 578.99 L796.32 574.79 L791.88 570.42 L787.59 565.9 L783.46 561.23 L779.51 556.42 L775.72 551.47 L772.11 546.39 L768.68 541.18 L765.44 535.86 L762.39 530.43 L759.53 524.89 L756.87 519.26 L754.41 513.54 L752.15 507.73 L750.1 501.84 L748.26 495.89 L746.63 489.88 L745.21 483.81 L744.01 477.7 L743.03 471.54 L742.26 465.36 L741.71 459.15 L741.38 452.93 L741.27 446.7 L741.3 443.17 L741.41 439.71 L741.58 436.3 L741.82 432.96 L742.11 429.68 L742.47 426.47 L742.89 423.32 L743.36 420.23 L743.88 417.22 L744.45 414.27 L745.06 411.39 L745.73 408.59 L746.43 405.85 L747.17 403.18 L747.95 400.59 L748.77 398.06 L749.61 395.61 L750.49 393.23 L751.39 390.92 L752.32 388.69 L753.26 386.53 L754.23 384.44 L755.21 382.42 L756.21 380.47 L757.22 378.6 L758.23 376.8 L759.26 375.06 L760.28 373.4 L761.31 371.81 L762.34 370.29 L763.36 368.84 L764.38 367.45 L765.39 366.13 L766.4 364.88 L767.39 363.69 L768.36 362.57 L769.32 361.51 L770.26 360.51 L771.18 359.58 L816.22 404.63 L818.29 406.65 L820.4 408.63 L822.54 410.57 L824.73 412.47 L826.95 414.32 L829.21 416.13 L831.5 417.89 L833.83 419.6 L836.2 421.27 L838.59 422.89 L841.02 424.46 L843.48 425.98 L845.97 427.45 L848.49 428.88 L851.04 430.25 L853.62 431.56 L856.22 432.83 L858.84 434.04 L861.49 435.21 L864.17 436.31 L866.86 437.37 L869.58 438.36 L872.31 439.31 L875.06 440.2 L877.83 441.03 L880.62 441.81 L883.42 442.53 L886.24 443.19 L889.07 443.8 L891.91 444.35 L894.76 444.84 L897.62 445.28 L900.48 445.65 L903.36 445.97 L906.24 446.23 L909.13 446.44 L912.02 446.58 L914.91 446.67 L917.8 446.7 L920.69 446.67 L923.58 446.58 L926.47 446.44 L929.36 446.23 L932.24 445.97 L935.12 445.65 L937.98 445.28 L940.84 444.84 L943.69 444.35 L946.53 443.8 L949.36 443.19 L952.18 442.53 L954.98 441.81 L957.77 441.03 L960.54 440.2 L963.29 439.31 L966.02 438.36 L968.74 437.37 L971.43 436.31 L974.11 435.21 L976.76 434.04 L979.38 432.83 L981.98 431.56 L984.56 430.25 L987.11 428.88 L989.62 427.45 L992.12 425.98 L994.58 424.46 L997.01 422.89 L999.4 421.27 L1001.77 419.6 L1004.1 417.89 L1006.39 416.13 L1008.65 414.32 L1010.87 412.47 L1013.06 410.57 L1015.2 408.63 L1017.31 406.65 L1019.38 404.63Z" fill="#fff" stroke="none"/>
<circle cx="917.8" cy="303.05" r="143.65" fill="#808080" stroke="#000" stroke-width="1.1"/>
<g fill="none" stroke="#00f" stroke-width="1.12"><path d="M945.82 443.94 L945.83 443.94 L945.83 443.95 L945.83 443.96 L945.83 443.97 L945.83 443.98 L945.84 444 L945.84 444.03 L945.84 444.05 L945.85 444.09 L945.85 444.12 L945.86 444.16 L945.87 444.2 L945.87 444.24 L945.88 444.29 L945.88 444.35 L945.89 444.4 L945.9 444.46 L945.9 444.52 L945.91 444.59 L945.92 444.66 L945.93 444.74 L945.93 444.81 L945.94 444.9 L945.95 444.98 L945.95 445.07 L945.96 445.16 L945.96 445.26 L945.97 445.36 L945.98 445.46 L945.98 445.57 L945.99 445.68 L945.99 445.8 L945.99 445.91 L946 446.04 L946 446.16 L946 446.29 L946 446.42 L946.01 446.56 L946.01 446.7 L945.99 447.7 L945.94 448.69 L945.85 449.68 L945.72 450.67 L945.57 451.65 L945.38 452.63 L945.15 453.6 L944.89 454.56 L944.59 455.51 L944.27 456.45 L943.91 457.38 L943.51 458.29 L943.09 459.19 L942.63 460.08 L942.14 460.95 L941.63 461.8 L941.08 462.63 L940.5 463.44 L939.9 464.23 L939.26 465 L938.6 465.75 L937.92 466.47 L937.21 467.17 L936.48 467.84 L935.72 468.48 L934.94 469.1 L934.14 469.69 L933.31 470.26 L932.47 470.79 L931.61 471.29 L930.74 471.76 L929.85 472.2 L928.94 472.61 L928.02 472.99 L927.08 473.33 L926.14 473.65 L925.18 473.92 L924.21 474.17 L923.24 474.38 L922.26 474.55 L921.28 474.69 L920.29 474.8 L919.29 474.87 L918.3 474.9 L917.3 474.9 L916.31 474.87 L915.31 474.8 L914.32 474.69 L913.34 474.55 L912.36 474.38 L911.39 474.17 L910.42 473.92 L909.46 473.65 L908.52 473.33 L907.58 472.99 L906.66 472.61 L905.75 472.2 L904.86 471.76 L903.99 471.29 L903.13 470.79 L902.29 470.26 L901.46 469.69 L900.66 469.1 L899.88 468.48 L899.12 467.84 L898.39 467.17 L897.68 466.47 L897 465.75 L896.34 465 L895.7 464.23 L895.1 463.44 L894.52 462.63 L893.97 461.8 L893.46 460.95 L892.97 460.08 L892.51 459.19 L892.09 458.29 L891.69 457.38 L891.33 456.45 L891.01 455.51 L890.71 454.56 L890.45 453.6 L890.22 452.63 L890.03 451.65 L889.88 450.67 L889.75 449.68 L889.66 448.69 L889.61 447.7 L889.59 446.7 L889.59 446.56 L889.6 446.42 L889.6 446.29 L889.6 446.16 L889.6 446.04 L889.61 445.91 L889.61 445.8 L889.61 445.68 L889.62 445.57 L889.62 445.46 L889.63 445.36 L889.64 445.26 L889.64 445.16 L889.65 445.07 L889.65 444.98 L889.66 444.9 L889.67 444.81 L889.67 444.74 L889.68 444.66 L889.69 444.59 L889.7 444.52 L889.7 444.46 L889.71 444.4 L889.72 444.35 L889.72 444.29 L889.73 444.24 L889.73 444.2 L889.74 444.16 L889.75 444.12 L889.75 444.09 L889.76 444.05 L889.76 444.03 L889.76 444 L889.77 443.98 L889.77 443.97 L889.77 443.96 L889.77 443.95 L889.77 443.94 L889.78 443.94"/><path d="M972.77 435.77 L972.78 435.77 L972.78 435.79 L972.8 435.83 L972.81 435.87 L972.84 435.94 L972.86 436.01 L972.89 436.1 L972.93 436.2 L972.96 436.32 L973.01 436.46 L973.05 436.6 L973.09 436.76 L973.14 436.94 L973.19 437.13 L973.24 437.33 L973.3 437.55 L973.35 437.79 L973.41 438.04 L973.46 438.3 L973.52 438.58 L973.57 438.87 L973.63 439.18 L973.68 439.5 L973.73 439.84 L973.79 440.19 L973.84 440.56 L973.88 440.95 L973.93 441.34 L973.97 441.76 L974.02 442.18 L974.05 442.63 L974.09 443.08 L974.12 443.56 L974.15 444.04 L974.17 444.55 L974.19 445.06 L974.2 445.59 L974.21 446.14 L974.21 446.7 L974.18 448.69 L974.07 450.68 L973.9 452.66 L973.65 454.64 L973.33 456.6 L972.95 458.56 L972.5 460.5 L971.98 462.42 L971.39 464.32 L970.73 466.2 L970.01 468.06 L969.23 469.89 L968.38 471.69 L967.46 473.46 L966.49 475.19 L965.45 476.89 L964.36 478.56 L963.2 480.18 L961.99 481.76 L960.73 483.3 L959.41 484.79 L958.04 486.24 L956.62 487.63 L955.15 488.98 L953.63 490.27 L952.08 491.5 L950.47 492.69 L948.83 493.81 L947.15 494.88 L945.43 495.88 L943.68 496.83 L941.89 497.71 L940.08 498.53 L938.23 499.28 L936.36 499.97 L934.47 500.59 L932.56 501.15 L930.63 501.63 L928.68 502.05 L926.72 502.4 L924.75 502.68 L922.77 502.89 L920.79 503.03 L918.8 503.1 L916.8 503.1 L914.81 503.03 L912.83 502.89 L910.85 502.68 L908.88 502.4 L906.92 502.05 L904.97 501.63 L903.04 501.15 L901.13 500.59 L899.24 499.97 L897.37 499.28 L895.52 498.53 L893.71 497.71 L891.92 496.83 L890.17 495.88 L888.45 494.88 L886.77 493.81 L885.13 492.69 L883.52 491.5 L881.97 490.27 L880.45 488.98 L878.98 487.63 L877.56 486.24 L876.19 484.79 L874.87 483.3 L873.61 481.76 L872.4 480.18 L871.24 478.56 L870.15 476.89 L869.11 475.19 L868.14 473.46 L867.22 471.69 L866.37 469.89 L865.59 468.06 L864.87 466.2 L864.21 464.32 L863.62 462.42 L863.1 460.5 L862.65 458.56 L862.27 456.6 L861.95 454.64 L861.7 452.66 L861.53 450.68 L861.42 448.69 L861.39 446.7 L861.39 446.14 L861.4 445.59 L861.41 445.06 L861.43 444.55 L861.45 444.04 L861.48 443.56 L861.51 443.08 L861.55 442.63 L861.58 442.18 L861.63 441.76 L861.67 441.34 L861.72 440.95 L861.76 440.56 L861.81 440.19 L861.87 439.84 L861.92 439.5 L861.97 439.18 L862.03 438.87 L862.08 438.58 L862.14 438.3 L862.19 438.04 L862.25 437.79 L862.3 437.55 L862.36 437.33 L862.41 437.13 L862.46 436.94 L862.51 436.76 L862.55 436.6 L862.59 436.46 L862.64 436.32 L862.67 436.2 L862.71 436.1 L862.74 436.01 L862.76 435.94 L862.79 435.87 L862.8 435.83 L862.82 435.79 L862.82 435.77 L862.83 435.77"/><path d="M997.61 422.49 L997.62 422.5 L997.64 422.55 L997.69 422.62 L997.74 422.71 L997.82 422.84 L997.91 423 L998.01 423.19 L998.12 423.41 L998.24 423.66 L998.38 423.94 L998.52 424.25 L998.67 424.59 L998.83 424.97 L999 425.38 L999.17 425.82 L999.35 426.3 L999.53 426.81 L999.71 427.35 L999.89 427.93 L1000.08 428.54 L1000.26 429.19 L1000.45 429.87 L1000.63 430.58 L1000.81 431.33 L1000.98 432.12 L1001.15 432.93 L1001.31 433.79 L1001.47 434.68 L1001.62 435.6 L1001.76 436.55 L1001.88 437.55 L1002 438.57 L1002.11 439.63 L1002.2 440.72 L1002.27 441.85 L1002.33 443.01 L1002.38 444.21 L1002.41 445.44 L1002.42 446.7 L1002.36 449.69 L1002.21 452.67 L1001.94 455.64 L1001.57 458.61 L1001.1 461.56 L1000.53 464.49 L999.85 467.4 L999.07 470.28 L998.18 473.13 L997.2 475.95 L996.12 478.74 L994.94 481.48 L993.66 484.18 L992.29 486.83 L990.83 489.44 L989.28 491.99 L987.63 494.48 L985.9 496.92 L984.09 499.29 L982.19 501.6 L980.21 503.84 L978.16 506 L976.03 508.1 L973.83 510.11 L971.55 512.05 L969.21 513.91 L966.81 515.68 L964.34 517.37 L961.82 518.96 L959.24 520.47 L956.61 521.89 L953.94 523.21 L951.21 524.44 L948.45 525.57 L945.65 526.6 L942.81 527.54 L939.94 528.37 L937.04 529.1 L934.12 529.73 L931.18 530.25 L928.23 530.67 L925.26 530.99 L922.28 531.2 L919.29 531.3 L916.31 531.3 L913.32 531.2 L910.34 530.99 L907.37 530.67 L904.42 530.25 L901.48 529.73 L898.56 529.1 L895.66 528.37 L892.79 527.54 L889.95 526.6 L887.15 525.57 L884.39 524.44 L881.66 523.21 L878.99 521.89 L876.36 520.47 L873.78 518.96 L871.26 517.37 L868.79 515.68 L866.39 513.91 L864.05 512.05 L861.77 510.11 L859.57 508.1 L857.44 506 L855.39 503.84 L853.41 501.6 L851.51 499.29 L849.7 496.92 L847.97 494.48 L846.32 491.99 L844.77 489.44 L843.31 486.83 L841.94 484.18 L840.66 481.48 L839.48 478.74 L838.4 475.95 L837.42 473.13 L836.53 470.28 L835.75 467.4 L835.07 464.49 L834.5 461.56 L834.03 458.61 L833.66 455.64 L833.39 452.67 L833.24 449.69 L833.18 446.7 L833.19 445.44 L833.22 444.21 L833.27 443.01 L833.33 441.85 L833.4 440.72 L833.49 439.63 L833.6 438.57 L833.72 437.55 L833.84 436.55 L833.98 435.6 L834.13 434.68 L834.29 433.79 L834.45 432.93 L834.62 432.12 L834.79 431.33 L834.97 430.58 L835.15 429.87 L835.34 429.19 L835.52 428.54 L835.71 427.93 L835.89 427.35 L836.07 426.81 L836.25 426.3 L836.43 425.82 L836.6 425.38 L836.77 424.97 L836.93 424.59 L837.08 424.25 L837.22 423.94 L837.36 423.66 L837.48 423.41 L837.59 423.19 L837.69 423 L837.78 422.84 L837.86 422.71 L837.91 422.62 L837.96 422.55 L837.98 422.5 L837.99 422.49"/><path d="M1019.38 404.63 L1019.4 404.65 L1019.46 404.71 L1019.55 404.82 L1019.69 404.97 L1019.85 405.17 L1020.06 405.42 L1020.29 405.72 L1020.54 406.08 L1020.83 406.48 L1021.14 406.94 L1021.47 407.45 L1021.82 408.02 L1022.19 408.65 L1022.58 409.34 L1022.98 410.08 L1023.39 410.88 L1023.81 411.75 L1024.24 412.67 L1024.67 413.66 L1025.11 414.71 L1025.54 415.82 L1025.97 417 L1026.4 418.24 L1026.82 419.54 L1027.23 420.91 L1027.63 422.34 L1028.02 423.83 L1028.38 425.39 L1028.73 427.02 L1029.06 428.7 L1029.36 430.45 L1029.64 432.27 L1029.88 434.15 L1030.1 436.09 L1030.28 438.09 L1030.43 440.15 L1030.53 442.27 L1030.6 444.46 L1030.62 446.7 L1030.55 450.68 L1030.34 454.66 L1029.99 458.63 L1029.5 462.58 L1028.87 466.51 L1028.1 470.42 L1027.2 474.29 L1026.15 478.14 L1024.98 481.94 L1023.67 485.7 L1022.22 489.41 L1020.65 493.07 L1018.95 496.67 L1017.12 500.21 L1015.17 503.69 L1013.1 507.09 L1010.91 510.41 L1008.6 513.66 L1006.19 516.82 L1003.66 519.9 L1001.02 522.88 L998.28 525.77 L995.44 528.56 L992.5 531.25 L989.47 533.83 L986.35 536.31 L983.15 538.67 L979.86 540.92 L976.49 543.05 L973.06 545.06 L969.55 546.95 L965.98 548.72 L962.35 550.35 L958.67 551.86 L954.93 553.24 L951.15 554.48 L947.32 555.59 L943.46 556.57 L939.57 557.4 L935.65 558.1 L931.7 558.66 L927.74 559.08 L923.77 559.36 L919.79 559.5 L915.81 559.5 L911.83 559.36 L907.86 559.08 L903.9 558.66 L899.95 558.1 L896.03 557.4 L892.14 556.57 L888.28 555.59 L884.45 554.48 L880.67 553.24 L876.93 551.86 L873.25 550.35 L869.62 548.72 L866.05 546.95 L862.54 545.06 L859.11 543.05 L855.74 540.92 L852.45 538.67 L849.25 536.31 L846.13 533.83 L843.1 531.25 L840.16 528.56 L837.32 525.77 L834.58 522.88 L831.94 519.9 L829.41 516.82 L827 513.66 L824.69 510.41 L822.5 507.09 L820.43 503.69 L818.48 500.21 L816.65 496.67 L814.95 493.07 L813.38 489.41 L811.93 485.7 L810.62 481.94 L809.45 478.14 L808.4 474.29 L807.5 470.42 L806.73 466.51 L806.1 462.58 L805.61 458.63 L805.26 454.66 L805.05 450.68 L804.98 446.7 L805 444.46 L805.07 442.27 L805.17 440.15 L805.32 438.09 L805.5 436.09 L805.72 434.15 L805.96 432.27 L806.24 430.45 L806.54 428.7 L806.87 427.02 L807.22 425.39 L807.58 423.83 L807.97 422.34 L808.37 420.91 L808.78 419.54 L809.2 418.24 L809.63 417 L810.06 415.82 L810.49 414.71 L810.93 413.66 L811.36 412.67 L811.79 411.75 L812.21 410.88 L812.62 410.08 L813.02 409.34 L813.41 408.65 L813.78 408.02 L814.13 407.45 L814.46 406.94 L814.77 406.48 L815.06 406.08 L815.31 405.72 L815.54 405.42 L815.75 405.17 L815.91 404.97 L816.05 404.82 L816.14 404.71 L816.2 404.65 L816.22 404.63"/><path d="M1030.64 393.36 L1030.88 393.61 L1031.16 393.91 L1031.48 394.26 L1031.82 394.65 L1032.19 395.1 L1032.59 395.6 L1033.02 396.16 L1033.47 396.77 L1033.94 397.43 L1034.43 398.16 L1034.93 398.94 L1035.45 399.78 L1035.99 400.69 L1036.53 401.65 L1037.08 402.68 L1037.64 403.77 L1038.2 404.92 L1038.76 406.14 L1039.33 407.42 L1039.88 408.76 L1040.43 410.17 L1040.98 411.65 L1041.51 413.19 L1042.03 414.8 L1042.53 416.48 L1043.02 418.22 L1043.48 420.02 L1043.92 421.89 L1044.34 423.83 L1044.72 425.83 L1045.08 427.9 L1045.41 430.03 L1045.7 432.23 L1045.95 434.48 L1046.16 436.81 L1046.33 439.19 L1046.45 441.63 L1046.52 444.14 L1046.55 446.7 L1046.47 451.24 L1046.23 455.78 L1045.83 460.31 L1045.27 464.82 L1044.55 469.31 L1043.67 473.76 L1042.64 478.19 L1041.45 482.58 L1040.11 486.92 L1038.61 491.21 L1036.97 495.45 L1035.17 499.62 L1033.23 503.73 L1031.15 507.77 L1028.92 511.73 L1026.56 515.61 L1024.06 519.41 L1021.42 523.11 L1018.66 526.72 L1015.78 530.23 L1012.77 533.64 L1009.64 536.93 L1006.4 540.12 L1003.05 543.19 L999.59 546.13 L996.03 548.96 L992.37 551.66 L988.62 554.22 L984.78 556.65 L980.86 558.95 L976.86 561.11 L972.78 563.12 L968.64 564.99 L964.43 566.71 L960.17 568.28 L955.85 569.7 L951.49 570.96 L947.08 572.08 L942.64 573.03 L938.17 573.83 L933.67 574.47 L929.15 574.95 L924.61 575.27 L920.07 575.43 L915.53 575.43 L910.99 575.27 L906.45 574.95 L901.93 574.47 L897.43 573.83 L892.96 573.03 L888.52 572.08 L884.11 570.96 L879.75 569.7 L875.43 568.28 L871.17 566.71 L866.96 564.99 L862.82 563.12 L858.74 561.11 L854.74 558.95 L850.82 556.65 L846.98 554.22 L843.23 551.66 L839.57 548.96 L836.01 546.13 L832.55 543.19 L829.2 540.12 L825.96 536.93 L822.83 533.64 L819.82 530.23 L816.94 526.72 L814.18 523.11 L811.54 519.41 L809.04 515.61 L806.68 511.73 L804.45 507.77 L802.37 503.73 L800.43 499.62 L798.63 495.45 L796.99 491.21 L795.49 486.92 L794.15 482.58 L792.96 478.19 L791.93 473.76 L791.05 469.31 L790.33 464.82 L789.77 460.31 L789.37 455.78 L789.13 451.24 L789.05 446.7 L789.08 444.14 L789.15 441.63 L789.27 439.19 L789.44 436.81 L789.65 434.48 L789.9 432.23 L790.19 430.03 L790.52 427.9 L790.88 425.83 L791.26 423.83 L791.68 421.89 L792.12 420.02 L792.58 418.22 L793.07 416.48 L793.57 414.8 L794.09 413.19 L794.62 411.65 L795.17 410.17 L795.72 408.76 L796.27 407.42 L796.84 406.14 L797.4 404.92 L797.96 403.77 L798.52 402.68 L799.07 401.65 L799.61 400.69 L800.15 399.78 L800.67 398.94 L801.17 398.16 L801.66 397.43 L802.13 396.77 L802.58 396.16 L803.01 395.6 L803.41 395.1 L803.78 394.65 L804.12 394.26 L804.44 393.91 L804.72 393.61 L804.96 393.36"/><path d="M1041.9 382.1 L1042.37 382.58 L1042.87 383.11 L1043.4 383.7 L1043.95 384.33 L1044.53 385.03 L1045.13 385.78 L1045.75 386.59 L1046.39 387.46 L1047.05 388.39 L1047.71 389.38 L1048.39 390.43 L1049.08 391.54 L1049.78 392.72 L1050.48 393.97 L1051.19 395.28 L1051.89 396.65 L1052.59 398.09 L1053.29 399.6 L1053.98 401.17 L1054.66 402.82 L1055.33 404.53 L1055.98 406.3 L1056.62 408.15 L1057.23 410.06 L1057.83 412.04 L1058.4 414.09 L1058.94 416.21 L1059.46 418.39 L1059.94 420.64 L1060.39 422.96 L1060.8 425.34 L1061.18 427.79 L1061.51 430.31 L1061.79 432.88 L1062.03 435.52 L1062.22 438.23 L1062.36 440.99 L1062.45 443.82 L1062.48 446.7 L1062.39 451.81 L1062.12 456.91 L1061.67 461.99 L1061.04 467.06 L1060.23 472.1 L1059.24 477.11 L1058.08 482.09 L1056.75 487.01 L1055.24 491.89 L1053.56 496.72 L1051.71 501.48 L1049.69 506.17 L1047.51 510.78 L1045.17 515.32 L1042.67 519.77 L1040.01 524.14 L1037.2 528.4 L1034.24 532.56 L1031.14 536.62 L1027.9 540.56 L1024.51 544.39 L1021 548.1 L1017.36 551.67 L1013.59 555.12 L1009.71 558.44 L1005.7 561.61 L1001.59 564.64 L997.38 567.52 L993.07 570.26 L988.66 572.84 L984.16 575.26 L979.59 577.52 L974.93 579.62 L970.2 581.55 L965.41 583.32 L960.56 584.91 L955.66 586.34 L950.7 587.59 L945.71 588.66 L940.68 589.56 L935.63 590.27 L930.55 590.81 L925.46 591.17 L920.35 591.35 L915.25 591.35 L910.14 591.17 L905.05 590.81 L899.97 590.27 L894.92 589.56 L889.89 588.66 L884.9 587.59 L879.94 586.34 L875.04 584.91 L870.19 583.32 L865.4 581.55 L860.67 579.62 L856.01 577.52 L851.44 575.26 L846.94 572.84 L842.53 570.26 L838.22 567.52 L834.01 564.64 L829.9 561.61 L825.89 558.44 L822.01 555.12 L818.24 551.67 L814.6 548.1 L811.09 544.39 L807.7 540.56 L804.46 536.62 L801.36 532.56 L798.4 528.4 L795.59 524.14 L792.93 519.77 L790.43 515.32 L788.09 510.78 L785.91 506.17 L783.89 501.48 L782.04 496.72 L780.36 491.89 L778.85 487.01 L777.52 482.09 L776.36 477.11 L775.37 472.1 L774.56 467.06 L773.93 461.99 L773.48 456.91 L773.21 451.81 L773.12 446.7 L773.15 443.82 L773.24 440.99 L773.38 438.23 L773.57 435.52 L773.81 432.88 L774.09 430.31 L774.42 427.79 L774.8 425.34 L775.21 422.96 L775.66 420.64 L776.14 418.39 L776.66 416.21 L777.2 414.09 L777.77 412.04 L778.37 410.06 L778.98 408.15 L779.62 406.3 L780.27 404.53 L780.94 402.82 L781.62 401.17 L782.31 399.6 L783.01 398.09 L783.71 396.65 L784.41 395.28 L785.12 393.97 L785.82 392.72 L786.52 391.54 L787.21 390.43 L787.89 389.38 L788.55 388.39 L789.21 387.46 L789.85 386.59 L790.47 385.78 L791.07 385.03 L791.65 384.33 L792.2 383.7 L792.73 383.11 L793.23 382.58 L793.7 382.1"/><path d="M1053.16 370.84 L1053.86 371.55 L1054.58 372.31 L1055.32 373.13 L1056.08 374.01 L1056.87 374.95 L1057.67 375.96 L1058.48 377.02 L1059.31 378.15 L1060.15 379.34 L1061 380.59 L1061.86 381.92 L1062.71 383.3 L1063.57 384.76 L1064.43 386.28 L1065.29 387.87 L1066.14 389.53 L1066.98 391.26 L1067.81 393.06 L1068.63 394.93 L1069.43 396.87 L1070.22 398.88 L1070.98 400.96 L1071.72 403.11 L1072.44 405.33 L1073.13 407.61 L1073.78 409.97 L1074.41 412.4 L1075 414.89 L1075.55 417.46 L1076.06 420.09 L1076.52 422.79 L1076.94 425.55 L1077.32 428.39 L1077.64 431.28 L1077.91 434.24 L1078.12 437.26 L1078.28 440.35 L1078.37 443.5 L1078.4 446.7 L1078.3 452.37 L1078 458.03 L1077.5 463.68 L1076.81 469.3 L1075.91 474.9 L1074.82 480.46 L1073.53 485.98 L1072.04 491.45 L1070.37 496.87 L1068.5 502.22 L1066.45 507.51 L1064.21 512.71 L1061.79 517.84 L1059.19 522.88 L1056.41 527.82 L1053.46 532.66 L1050.35 537.39 L1047.06 542.02 L1043.62 546.52 L1040.02 550.9 L1036.26 555.14 L1032.36 559.26 L1028.32 563.23 L1024.14 567.06 L1019.82 570.74 L1015.38 574.26 L1010.82 577.62 L1006.14 580.82 L1001.35 583.86 L996.46 586.72 L991.47 589.41 L986.39 591.92 L981.22 594.25 L975.97 596.4 L970.65 598.36 L965.27 600.13 L959.82 601.71 L954.33 603.1 L948.78 604.29 L943.2 605.28 L937.59 606.08 L931.95 606.68 L926.3 607.08 L920.63 607.28 L914.97 607.28 L909.3 607.08 L903.65 606.68 L898.01 606.08 L892.4 605.28 L886.82 604.29 L881.27 603.1 L875.78 601.71 L870.33 600.13 L864.95 598.36 L859.63 596.4 L854.38 594.25 L849.21 591.92 L844.13 589.41 L839.14 586.72 L834.25 583.86 L829.46 580.82 L824.78 577.62 L820.22 574.26 L815.78 570.74 L811.46 567.06 L807.28 563.23 L803.24 559.26 L799.34 555.14 L795.58 550.9 L791.98 546.52 L788.54 542.02 L785.25 537.39 L782.14 532.66 L779.19 527.82 L776.41 522.88 L773.81 517.84 L771.39 512.71 L769.15 507.51 L767.1 502.22 L765.23 496.87 L763.56 491.45 L762.07 485.98 L760.78 480.46 L759.69 474.9 L758.79 469.3 L758.1 463.68 L757.6 458.03 L757.3 452.37 L757.2 446.7 L757.23 443.5 L757.32 440.35 L757.48 437.26 L757.69 434.24 L757.96 431.28 L758.28 428.39 L758.66 425.55 L759.08 422.79 L759.54 420.09 L760.05 417.46 L760.6 414.89 L761.19 412.4 L761.82 409.97 L762.47 407.61 L763.16 405.33 L763.88 403.11 L764.62 400.96 L765.38 398.88 L766.17 396.87 L766.97 394.93 L767.79 393.06 L768.62 391.26 L769.46 389.53 L770.31 387.87 L771.17 386.28 L772.03 384.76 L772.89 383.3 L773.74 381.92 L774.6 380.59 L775.45 379.34 L776.29 378.15 L777.12 377.02 L777.93 375.96 L778.73 374.95 L779.52 374.01 L780.28 373.13 L781.02 372.31 L781.74 371.55 L782.44 370.84"/><path d="M1064.42 359.58 L1065.34 360.51 L1066.28 361.51 L1067.24 362.57 L1068.21 363.69 L1069.2 364.88 L1070.21 366.13 L1071.22 367.45 L1072.24 368.84 L1073.26 370.29 L1074.29 371.81 L1075.32 373.4 L1076.34 375.06 L1077.37 376.8 L1078.38 378.6 L1079.39 380.47 L1080.39 382.42 L1081.37 384.44 L1082.34 386.53 L1083.28 388.69 L1084.21 390.92 L1085.11 393.23 L1085.99 395.61 L1086.83 398.06 L1087.65 400.59 L1088.43 403.18 L1089.17 405.85 L1089.87 408.59 L1090.54 411.39 L1091.15 414.27 L1091.72 417.22 L1092.24 420.23 L1092.71 423.32 L1093.13 426.47 L1093.49 429.68 L1093.78 432.96 L1094.02 436.3 L1094.19 439.71 L1094.3 443.17 L1094.33 446.7 L1094.22 452.93 L1093.89 459.15 L1093.34 465.36 L1092.57 471.54 L1091.59 477.7 L1090.39 483.81 L1088.97 489.88 L1087.34 495.89 L1085.5 501.84 L1083.45 507.73 L1081.19 513.54 L1078.73 519.26 L1076.07 524.89 L1073.21 530.43 L1070.16 535.86 L1066.92 541.18 L1063.49 546.39 L1059.88 551.47 L1056.09 556.42 L1052.14 561.23 L1048.01 565.9 L1043.72 570.42 L1039.28 574.79 L1034.68 578.99 L1029.94 583.04 L1025.06 586.91 L1020.04 590.61 L1014.9 594.13 L1009.64 597.46 L1004.26 600.61 L998.78 603.56 L993.19 606.32 L987.51 608.89 L981.74 611.24 L975.89 613.4 L969.98 615.34 L963.99 617.08 L957.95 618.6 L951.86 619.91 L945.72 621.01 L939.55 621.89 L933.36 622.54 L927.14 622.98 L920.92 623.2 L914.68 623.2 L908.46 622.98 L902.24 622.54 L896.05 621.89 L889.88 621.01 L883.74 619.91 L877.65 618.6 L871.61 617.08 L865.62 615.34 L859.71 613.4 L853.86 611.24 L848.09 608.89 L842.41 606.32 L836.82 603.56 L831.34 600.61 L825.96 597.46 L820.7 594.13 L815.56 590.61 L810.54 586.91 L805.66 583.04 L800.92 578.99 L796.32 574.79 L791.88 570.42 L787.59 565.9 L783.46 561.23 L779.51 556.42 L775.72 551.47 L772.11 546.39 L768.68 541.18 L765.44 535.86 L762.39 530.43 L759.53 524.89 L756.87 519.26 L754.41 513.54 L752.15 507.73 L750.1 501.84 L748.26 495.89 L746.63 489.88 L745.21 483.81 L744.01 477.7 L743.03 471.54 L742.26 465.36 L741.71 459.15 L741.38 452.93 L741.27 446.7 L741.3 443.17 L741.41 439.71 L741.58 436.3 L741.82 432.96 L742.11 429.68 L742.47 426.47 L742.89 423.32 L743.36 420.23 L743.88 417.22 L744.45 414.27 L745.06 411.39 L745.73 408.59 L746.43 405.85 L747.17 403.18 L747.95 400.59 L748.77 398.06 L749.61 395.61 L750.49 393.23 L751.39 390.92 L752.32 388.69 L753.26 386.53 L754.23 384.44 L755.21 382.42 L756.21 380.47 L757.22 378.6 L758.23 376.8 L759.26 375.06 L760.28 373.4 L761.31 371.81 L762.34 370.29 L763.36 368.84 L764.38 367.45 L765.39 366.13 L766.4 364.88 L767.39 363.69 L768.36 362.57 L769.32 361.51 L770.26 360.51 L771.18 359.58"/></g>
<g fill="none" stroke="#f00" stroke-width="1.12"><path d="M917.8 446.7 L1094.33 446.7"/><path d="M917.8 446.7 L1088.32 492.39"/><path d="M917.8 446.7 L1070.68 534.97"/><path d="M917.8 446.7 L1042.63 571.53"/><path d="M917.8 446.7 L1006.07 599.58"/><path d="M917.8 446.7 L963.49 617.22"/><path d="M917.8 446.7 L917.8 623.23"/><path d="M917.8 446.7 L872.11 617.22"/><path d="M917.8 446.7 L829.53 599.58"/><path d="M917.8 446.7 L792.97 571.53"/><path d="M917.8 446.7 L764.92 534.97"/><path d="M917.8 446.7 L747.28 492.39"/><path d="M917.8 446.7 L741.27 446.7"/><path d="M889.78 443.94 L744.3 415"/><path d="M862.83 435.77 L751.85 389.8"/><path d="M837.99 422.49 L761.57 371.43"/><path d="M816.22 404.63 L771.18 359.58"/><path d="M945.82 443.94 L1091.3 415"/><path d="M972.77 435.77 L1083.75 389.8"/><path d="M997.61 422.49 L1074.03 371.43"/><path d="M1019.38 404.63 L1064.42 359.58"/></g>
<path d="M1064.42 359.58A207.1 207.1 0 1 0 771.18 359.58" fill="none" stroke="#f00" stroke-width="1.12"/>
<path d="M917.8 213.5L1064.42 359.58M917.8 213.5L771.18 359.58" fill="none" stroke="#00f" stroke-width="1.3" stroke-dasharray="1.3 6.76" stroke-dashoffset="-7.4"/>
<path d="M912.5 213.5H923.1M917.8 208.2V218.8M913.8 209.5L921.8 217.5M913.8 217.5L921.8 209.5" stroke="#00f" stroke-width="1.15" fill="none"/>
<path d="M912.5 303.05H923.1M917.8 297.75V308.35M913.8 299.05L921.8 307.05M913.8 307.05L921.8 299.05" stroke="#00f" stroke-width="1.15" fill="none"/>
<path d="M912.5 446.7H923.1M917.8 441.4V452M913.8 442.7L921.8 450.7M913.8 450.7L921.8 442.7" stroke="#00f" stroke-width="1.15" fill="none"/>
<path d="M1014.08 404.63H1024.68M1019.38 399.33V409.93M1015.38 400.63L1023.38 408.63M1015.38 408.63L1023.38 400.63" stroke="#00f" stroke-width="1.15" fill="none"/>
<path d="M810.92 404.63H821.52M816.22 399.33V409.93M812.22 400.63L820.22 408.63M812.22 408.63L820.22 400.63" stroke="#00f" stroke-width="1.15" fill="none"/>
<path d="M1059.12 359.58H1069.72M1064.42 354.28V364.88M1060.42 355.58L1068.42 363.58M1060.42 363.58L1068.42 355.58" stroke="#00f" stroke-width="1.15" fill="none"/>
<path d="M765.88 359.58H776.48M771.18 354.28V364.88M767.18 355.58L775.18 363.58M767.18 363.58L775.18 355.58" stroke="#00f" stroke-width="1.15" fill="none"/>
<path d="M917.8 20V198.5" stroke="#111" stroke-width="1.4" fill="none"/>
<path d="M917.8 5.7L911.6999999999999 26.8H923.9Z" fill="#000"/>
<path d="M917.8 213.7L911.6999999999999 192.8H923.9Z" fill="#000"/>
<g>
<text transform="translate(1.67 24.3) scale(1.06 1)" font-size="28.6">(<tspan font-style="italic">a</tspan>)</text>
<text transform="translate(590.86 24.1) scale(1.07 1)" font-size="28.6">(<tspan font-style="italic">b</tspan>)</text>
<text transform="translate(52.55 47.45)" font-size="25.7"><tspan letter-spacing="-0.65">2.</tspan>5</text>
<text transform="translate(53.82 102.6)" font-size="25.7"><tspan letter-spacing="-0.65">2.</tspan>0</text>
<text transform="translate(52.55 157.75)" font-size="25.7"><tspan letter-spacing="-0.65">1.</tspan>5</text>
<text transform="translate(53.82 212.9)" font-size="25.7"><tspan letter-spacing="-0.65">1.</tspan>0</text>
<text transform="translate(52.55 268.05)" font-size="25.7"><tspan letter-spacing="-0.65">0.</tspan>5</text>
<text transform="translate(71.82 323.2)" font-size="25.7">0</text>
<text transform="translate(33.8 378.35)" font-size="25.7"><tspan dy="2.05" textLength="18.7" lengthAdjust="spacingAndGlyphs">−</tspan><tspan dy="-2.05" letter-spacing="-0.65">0.</tspan>5</text>
<text transform="translate(35.2 433.5)" font-size="25.7"><tspan dy="2.05" textLength="18.7" lengthAdjust="spacingAndGlyphs">−</tspan><tspan dy="-2.05" letter-spacing="-0.65">1.</tspan>0</text>
<text transform="translate(33.8 488.65)" font-size="25.7"><tspan dy="2.05" textLength="18.7" lengthAdjust="spacingAndGlyphs">−</tspan><tspan dy="-2.05" letter-spacing="-0.65">1.</tspan>5</text>
<text transform="translate(35.2 543.8)" font-size="25.7"><tspan dy="2.05" textLength="18.7" lengthAdjust="spacingAndGlyphs">−</tspan><tspan dy="-2.05" letter-spacing="-0.65">2.</tspan>0</text>
<text transform="translate(33.8 598.95)" font-size="25.7"><tspan dy="2.05" textLength="18.7" lengthAdjust="spacingAndGlyphs">−</tspan><tspan dy="-2.05" letter-spacing="-0.65">2.</tspan>5</text>
<text transform="translate(78.88 650.9)" font-size="25.7"><tspan dy="2.05" textLength="18.7" lengthAdjust="spacingAndGlyphs">−</tspan><tspan dy="-2.05">2</tspan></text>
<text transform="translate(188.14 650.9)" font-size="25.7"><tspan dy="2.05" textLength="18.7" lengthAdjust="spacingAndGlyphs">−</tspan><tspan dy="-2.05">1</tspan></text>
<text transform="translate(308.56 650.9)" font-size="25.7">0</text>
<text transform="translate(418.75 650.9)" font-size="25.7">1</text>
<text transform="translate(530.15 650.9)" font-size="25.7">2</text>
<text transform="translate(309.12 684) scale(1.063 1)" font-size="28.5"><tspan font-style="italic">x</tspan></text>
<text transform="translate(14.18 322.3) scale(0.935 1)" font-size="27.5"><tspan font-style="italic">y</tspan></text>
<text transform="translate(656.32 23)" font-size="25.7"><tspan letter-spacing="-0.65">2.</tspan>0</text>
<text transform="translate(655.05 94.85)" font-size="25.7"><tspan letter-spacing="-0.65">1.</tspan>5</text>
<text transform="translate(656.32 166.7)" font-size="25.7"><tspan letter-spacing="-0.65">1.</tspan>0</text>
<text transform="translate(655.05 238.55)" font-size="25.7"><tspan letter-spacing="-0.65">0.</tspan>5</text>
<text transform="translate(674.32 310.4)" font-size="25.7">0</text>
<text transform="translate(636.3 382.25)" font-size="25.7"><tspan dy="2.05" textLength="18.7" lengthAdjust="spacingAndGlyphs">−</tspan><tspan dy="-2.05" letter-spacing="-0.65">0.</tspan>5</text>
<text transform="translate(637.7 454.1)" font-size="25.7"><tspan dy="2.05" textLength="18.7" lengthAdjust="spacingAndGlyphs">−</tspan><tspan dy="-2.05" letter-spacing="-0.65">1.</tspan>0</text>
<text transform="translate(636.3 525.95)" font-size="25.7"><tspan dy="2.05" textLength="18.7" lengthAdjust="spacingAndGlyphs">−</tspan><tspan dy="-2.05" letter-spacing="-0.65">1.</tspan>5</text>
<text transform="translate(637.7 597.8)" font-size="25.7"><tspan dy="2.05" textLength="18.7" lengthAdjust="spacingAndGlyphs">−</tspan><tspan dy="-2.05" letter-spacing="-0.65">2.</tspan>0</text>
<text transform="translate(671.74 650.8)" font-size="25.7"><tspan dy="2.05" textLength="18.7" lengthAdjust="spacingAndGlyphs">−</tspan><tspan dy="-2.05" letter-spacing="-0.65">1.</tspan>5</text>
<text transform="translate(746.14 650.8)" font-size="25.7"><tspan dy="2.05" textLength="18.7" lengthAdjust="spacingAndGlyphs">−</tspan><tspan dy="-2.05" letter-spacing="-0.65">1.</tspan>0</text>
<text transform="translate(819.24 650.8)" font-size="25.7"><tspan dy="2.05" textLength="18.7" lengthAdjust="spacingAndGlyphs">−</tspan><tspan dy="-2.05" letter-spacing="-0.65">0.</tspan>5</text>
<text transform="translate(910.91 650.8)" font-size="25.7">0</text>
<text transform="translate(975.73 650.8)" font-size="25.7"><tspan letter-spacing="-0.65">0.</tspan>5</text>
<text transform="translate(1050.68 650.8)" font-size="25.7"><tspan letter-spacing="-0.65">1.</tspan>0</text>
<text transform="translate(1123.9 650.8)" font-size="25.7"><tspan letter-spacing="-0.65">1.</tspan>5</text>
<text transform="translate(911.42 684) scale(1.063 1)" font-size="28.5"><tspan font-style="italic">x</tspan></text>
<text transform="translate(741.73 367.5)" font-size="24.8">D</text>
<text transform="translate(827.45 404.1) scale(1.1 1)" font-size="24.8">E</text>
<text transform="translate(992.38 404.3) scale(0.97 1)" font-size="24.8">B</text>
<text transform="translate(910.11 433.3) scale(0.96 1)" font-size="24.8">A</text>
<text transform="translate(1077.33 367.7) scale(1.1 1)" font-size="24.8">C</text>
<text transform="translate(926.74 305.3) scale(1.02 1)" font-size="25.3">O</text>
<text transform="translate(928.08 117)" font-size="24.8"><tspan font-style="italic">R</tspan></text>
<text><tspan x="929.7" y="211.1" font-size="23.3">(</tspan><tspan x="937.85" y="213.1" font-size="26.4">0</tspan><tspan x="951" y="212.3" font-size="26.4">, </tspan><tspan x="963.12" y="212.45" font-size="23.3" font-style="italic">y</tspan><tspan x="973.88" y="215.6" font-size="17.6">0</tspan><tspan x="982.65" y="211.1" font-size="23.3">)</tspan></text>
</g>
</svg>
</body></html>
